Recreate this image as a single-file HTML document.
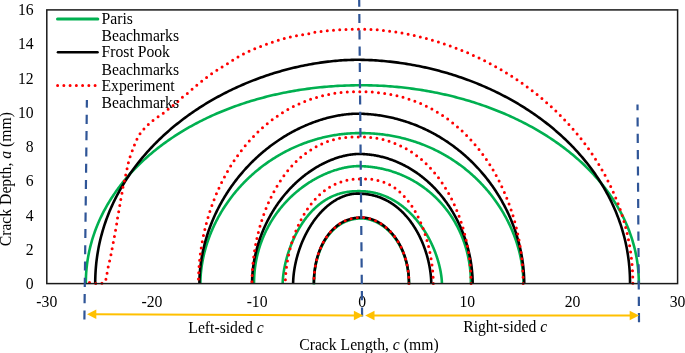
<!DOCTYPE html>
<html><head><meta charset="utf-8">
<style>
html,body{margin:0;padding:0;background:#fff;}
body{width:685px;height:353px;overflow:hidden;}
svg{display:block;}
text{font-family:"Liberation Serif", serif;font-size:15.7px;fill:#000;}
svg{will-change:transform;}
</style></head><body>
<svg width="685" height="353" viewBox="0 0 685 353">
<rect x="0" y="0" width="685" height="353" fill="#fff"/>
<g>
<text x="33.6" y="288.9" text-anchor="end">0</text>
<text x="33.6" y="254.7" text-anchor="end">2</text>
<text x="33.6" y="220.5" text-anchor="end">4</text>
<text x="33.6" y="186.3" text-anchor="end">6</text>
<text x="33.6" y="152.1" text-anchor="end">8</text>
<text x="33.6" y="117.8" text-anchor="end">10</text>
<text x="33.6" y="83.6" text-anchor="end">12</text>
<text x="33.6" y="49.4" text-anchor="end">14</text>
<text x="33.6" y="15.2" text-anchor="end">16</text>
<text x="46.8" y="307.2" text-anchor="middle">-30</text>
<text x="151.9" y="307.2" text-anchor="middle">-20</text>
<text x="257.1" y="307.2" text-anchor="middle">-10</text>
<text x="362.2" y="307.2" text-anchor="middle">0</text>
<text x="467.3" y="307.2" text-anchor="middle">10</text>
<text x="572.5" y="307.2" text-anchor="middle">20</text>
<text x="677.6" y="307.2" text-anchor="middle">30</text>
</g>
<!-- curves -->
<g>
<polyline fill="none" stroke="#00B050" stroke-width="2.6" stroke-linejoin="round" points="638.83,283.60 638.82,281.92 638.80,280.27 638.75,278.63 638.69,277.01 638.61,275.39 638.52,273.78 638.40,272.17 638.27,270.57 638.13,268.97 637.96,267.37 637.78,265.78 637.58,264.19 637.36,262.60 637.13,261.02 636.88,259.44 636.61,257.86 636.32,256.29 636.02,254.72 635.69,253.15 635.36,251.59 635.00,250.03 634.63,248.47 634.24,246.91 633.83,245.36 633.41,243.81 632.97,242.27 632.51,240.73 632.04,239.19 631.54,237.66 631.03,236.12 630.51,234.60 629.97,233.07 629.41,231.56 628.83,230.04 628.24,228.53 627.63,227.02 627.00,225.52 626.36,224.02 625.70,222.52 625.02,221.03 624.33,219.54 623.62,218.06 622.90,216.59 622.15,215.11 621.40,213.64 620.62,212.18 619.83,210.72 619.02,209.27 618.20,207.82 617.36,206.38 616.51,204.94 615.63,203.50 614.75,202.08 613.84,200.65 612.93,199.24 611.99,197.82 611.04,196.42 610.08,195.02 609.09,193.62 608.10,192.23 607.08,190.85 606.06,189.47 605.01,188.10 603.96,186.74 602.88,185.38 601.79,184.03 600.69,182.68 599.57,181.34 598.44,180.01 597.29,178.68 596.13,177.36 594.95,176.05 593.76,174.74 592.55,173.45 591.33,172.15 590.10,170.87 588.85,169.59 587.59,168.32 586.31,167.06 585.02,165.80 583.71,164.55 582.39,163.31 581.06,162.07 579.71,160.85 578.35,159.63 576.98,158.42 575.59,157.22 574.19,156.02 572.77,154.83 571.35,153.65 569.91,152.48 568.45,151.32 566.99,150.17 565.51,149.02 564.02,147.88 562.52,146.75 561.00,145.63 559.47,144.52 557.93,143.41 556.38,142.32 554.81,141.23 553.23,140.15 551.65,139.09 550.05,138.03 548.43,136.98 546.81,135.93 545.17,134.90 543.53,133.88 541.87,132.86 540.20,131.86 538.52,130.86 536.83,129.88 535.13,128.90 533.42,127.93 531.69,126.98 529.96,126.03 528.22,125.09 526.46,124.16 524.70,123.24 522.93,122.33 521.14,121.44 519.35,120.55 517.55,119.67 515.73,118.80 513.91,117.94 512.08,117.09 510.24,116.25 508.39,115.43 506.53,114.61 504.67,113.80 502.79,113.01 500.91,112.22 499.01,111.44 497.11,110.68 495.20,109.92 493.29,109.18 491.36,108.45 489.43,107.72 487.49,107.01 485.54,106.31 483.59,105.62 481.62,104.94 479.66,104.27 477.68,103.62 475.70,102.97 473.71,102.34 471.71,101.71 469.71,101.10 467.70,100.50 465.68,99.91 463.66,99.33 461.63,98.76 459.60,98.20 457.56,97.66 455.52,97.12 453.47,96.60 451.42,96.09 449.36,95.59 447.29,95.10 445.22,94.63 443.15,94.16 441.07,93.71 438.99,93.26 436.91,92.83 434.82,92.42 432.72,92.01 430.63,91.61 428.52,91.23 426.42,90.86 424.31,90.50 422.20,90.15 420.09,89.81 417.98,89.49 415.86,89.18 413.74,88.88 411.62,88.59 409.49,88.31 407.36,88.05 405.24,87.79 403.11,87.55 400.98,87.32 398.85,87.10 396.72,86.90 394.59,86.71 392.45,86.52 390.32,86.36 388.19,86.20 386.06,86.05 383.93,85.92 381.80,85.80 379.67,85.69 377.55,85.59 375.43,85.51 373.31,85.44 371.20,85.38 369.09,85.33 366.99,85.29 364.90,85.27 362.84,85.26 360.60,85.26 358.25,85.27 355.92,85.29 353.62,85.33 351.33,85.38 349.06,85.44 346.79,85.51 344.53,85.59 342.28,85.69 340.04,85.80 337.80,85.92 335.57,86.05 333.34,86.20 331.12,86.36 328.90,86.52 326.69,86.71 324.49,86.90 322.29,87.10 320.09,87.32 317.90,87.55 315.72,87.79 313.54,88.05 311.37,88.31 309.20,88.59 307.03,88.88 304.87,89.18 302.72,89.49 300.57,89.81 298.43,90.15 296.29,90.50 294.15,90.86 292.03,91.23 289.91,91.61 287.79,92.01 285.68,92.42 283.58,92.83 281.48,93.26 279.39,93.71 277.30,94.16 275.22,94.63 273.15,95.10 271.08,95.59 269.02,96.09 266.97,96.60 264.92,97.12 262.88,97.66 260.85,98.20 258.82,98.76 256.80,99.33 254.79,99.91 252.78,100.50 250.79,101.10 248.80,101.71 246.81,102.34 244.84,102.97 242.87,103.62 240.91,104.27 238.96,104.94 237.02,105.62 235.09,106.31 233.16,107.01 231.24,107.72 229.33,108.45 227.43,109.18 225.54,109.92 223.66,110.68 221.79,111.44 219.92,112.22 218.07,113.01 216.22,113.80 214.38,114.61 212.55,115.43 210.74,116.25 208.93,117.09 207.13,117.94 205.34,118.80 203.56,119.67 201.79,120.55 200.03,121.44 198.28,122.33 196.55,123.24 194.82,124.16 193.10,125.09 191.39,126.03 189.70,126.98 188.01,127.93 186.34,128.90 184.67,129.88 183.02,130.86 181.38,131.86 179.75,132.86 178.13,133.88 176.53,134.90 174.93,135.93 173.35,136.98 171.78,138.03 170.21,139.09 168.67,140.15 167.13,141.23 165.61,142.32 164.09,143.41 162.59,144.52 161.11,145.63 159.63,146.75 158.17,147.88 156.72,149.02 155.28,150.17 153.86,151.32 152.44,152.48 151.05,153.65 149.66,154.83 148.29,156.02 146.93,157.22 145.58,158.42 144.25,159.63 142.93,160.85 141.62,162.07 140.33,163.31 139.05,164.55 137.78,165.80 136.53,167.06 135.29,168.32 134.07,169.59 132.86,170.87 131.66,172.15 130.48,173.45 129.31,174.74 128.16,176.05 127.02,177.36 125.90,178.68 124.79,180.01 123.69,181.34 122.61,182.68 121.54,184.03 120.49,185.38 119.45,186.74 118.43,188.10 117.42,189.47 116.43,190.85 115.45,192.23 114.49,193.62 113.54,195.02 112.61,196.42 111.69,197.82 110.79,199.24 109.90,200.65 109.03,202.08 108.17,203.50 107.33,204.94 106.51,206.38 105.70,207.82 104.90,209.27 104.13,210.72 103.36,212.18 102.62,213.64 101.89,215.11 101.17,216.59 100.47,218.06 99.79,219.54 99.12,221.03 98.47,222.52 97.83,224.02 97.21,225.52 96.61,227.02 96.02,228.53 95.45,230.04 94.90,231.56 94.36,233.07 93.83,234.60 93.33,236.12 92.84,237.66 92.36,239.19 91.91,240.73 91.47,242.27 91.04,243.81 90.63,245.36 90.24,246.91 89.87,248.47 89.51,250.03 89.17,251.59 88.84,253.15 88.53,254.72 88.24,256.29 87.97,257.86 87.71,259.44 87.46,261.02 87.24,262.60 87.03,264.19 86.84,265.78 86.66,267.37 86.50,268.97 86.36,270.57 86.23,272.17 86.13,273.78 86.03,275.39 85.96,277.01 85.90,278.63 85.86,280.27 85.83,281.92 85.82,283.60"/>
<polyline fill="none" stroke="#00B050" stroke-width="2.6" stroke-linejoin="round" points="523.47,283.60 523.46,282.67 523.45,281.67 523.43,280.64 523.39,279.60 523.35,278.55 523.29,277.48 523.23,276.41 523.15,275.33 523.07,274.24 522.98,273.15 522.87,272.05 522.76,270.95 522.64,269.85 522.50,268.74 522.36,267.63 522.21,266.52 522.05,265.41 521.87,264.29 521.69,263.17 521.50,262.05 521.30,260.93 521.09,259.80 520.87,258.68 520.64,257.56 520.40,256.43 520.15,255.30 519.89,254.18 519.62,253.05 519.34,251.93 519.05,250.80 518.75,249.68 518.44,248.55 518.13,247.43 517.80,246.30 517.46,245.18 517.12,244.06 516.76,242.94 516.40,241.82 516.02,240.70 515.64,239.58 515.24,238.47 514.84,237.35 514.43,236.24 514.01,235.13 513.58,234.02 513.14,232.92 512.69,231.81 512.23,230.71 511.76,229.61 511.28,228.52 510.80,227.42 510.30,226.33 509.80,225.24 509.28,224.16 508.76,223.07 508.23,221.99 507.69,220.92 507.14,219.84 506.58,218.77 506.01,217.71 505.44,216.64 504.85,215.58 504.26,214.53 503.65,213.47 503.04,212.43 502.42,211.38 501.79,210.34 501.15,209.30 500.51,208.27 499.85,207.24 499.19,206.22 498.52,205.20 497.84,204.19 497.15,203.17 496.45,202.17 495.75,201.17 495.03,200.17 494.31,199.18 493.58,198.19 492.84,197.21 492.10,196.24 491.34,195.26 490.58,194.30 489.81,193.34 489.03,192.38 488.24,191.43 487.45,190.49 486.65,189.55 485.84,188.62 485.02,187.69 484.19,186.77 483.36,185.85 482.52,184.94 481.67,184.04 480.81,183.14 479.95,182.25 479.08,181.37 478.20,180.49 477.32,179.62 476.42,178.75 475.52,177.89 474.62,177.04 473.70,176.19 472.78,175.35 471.85,174.52 470.92,173.69 469.97,172.87 469.03,172.06 468.07,171.26 467.11,170.46 466.14,169.67 465.16,168.88 464.18,168.10 463.19,167.34 462.19,166.57 461.19,165.82 460.18,165.07 459.17,164.33 458.15,163.60 457.12,162.87 456.08,162.16 455.04,161.45 454.00,160.75 452.95,160.05 451.89,159.37 450.83,158.69 449.76,158.02 448.68,157.36 447.60,156.70 446.51,156.06 445.42,155.42 444.32,154.79 443.22,154.17 442.11,153.55 441.00,152.95 439.88,152.35 438.75,151.76 437.62,151.18 436.48,150.61 435.34,150.05 434.20,149.50 433.05,148.95 431.89,148.41 430.73,147.89 429.57,147.37 428.40,146.86 427.22,146.36 426.04,145.86 424.86,145.38 423.67,144.90 422.48,144.44 421.28,143.98 420.08,143.53 418.87,143.09 417.66,142.66 416.45,142.24 415.23,141.83 414.01,141.43 412.78,141.03 411.55,140.65 410.31,140.28 409.08,139.91 407.83,139.55 406.59,139.21 405.34,138.87 404.08,138.54 402.83,138.22 401.56,137.91 400.30,137.61 399.03,137.32 397.76,137.04 396.48,136.77 395.20,136.51 393.92,136.25 392.64,136.01 391.35,135.78 390.05,135.55 388.76,135.34 387.46,135.14 386.16,134.94 384.85,134.76 383.54,134.58 382.23,134.41 380.91,134.26 379.59,134.11 378.26,133.97 376.94,133.85 375.60,133.73 374.27,133.62 372.93,133.52 371.58,133.44 370.23,133.36 368.87,133.29 367.51,133.23 366.14,133.18 364.76,133.14 363.37,133.11 361.97,133.09 360.53,133.08 359.20,133.08 358.00,133.09 356.80,133.11 355.59,133.14 354.38,133.18 353.16,133.23 351.94,133.29 350.72,133.36 349.50,133.44 348.27,133.52 347.05,133.62 345.82,133.73 344.60,133.85 343.37,133.97 342.14,134.11 340.91,134.26 339.69,134.41 338.46,134.58 337.23,134.76 336.01,134.94 334.78,135.14 333.56,135.34 332.33,135.55 331.11,135.78 329.89,136.01 328.67,136.25 327.45,136.51 326.23,136.77 325.02,137.04 323.80,137.32 322.59,137.61 321.38,137.91 320.17,138.22 318.96,138.54 317.76,138.87 316.55,139.21 315.35,139.55 314.15,139.91 312.96,140.28 311.77,140.65 310.58,141.03 309.39,141.43 308.20,141.83 307.02,142.24 305.84,142.66 304.66,143.09 303.49,143.53 302.32,143.98 301.16,144.44 299.99,144.90 298.83,145.38 297.68,145.86 296.52,146.36 295.38,146.86 294.23,147.37 293.09,147.89 291.95,148.41 290.82,148.95 289.69,149.50 288.56,150.05 287.44,150.61 286.33,151.18 285.21,151.76 284.11,152.35 283.00,152.95 281.91,153.55 280.81,154.17 279.72,154.79 278.64,155.42 277.56,156.06 276.49,156.70 275.42,157.36 274.35,158.02 273.29,158.69 272.24,159.37 271.19,160.05 270.15,160.75 269.11,161.45 268.08,162.16 267.05,162.87 266.03,163.60 265.02,164.33 264.01,165.07 263.01,165.82 262.01,166.57 261.02,167.34 260.03,168.10 259.05,168.88 258.08,169.67 257.11,170.46 256.15,171.26 255.20,172.06 254.25,172.87 253.31,173.69 252.38,174.52 251.45,175.35 250.53,176.19 249.61,177.04 248.71,177.89 247.81,178.75 246.91,179.62 246.03,180.49 245.15,181.37 244.27,182.25 243.41,183.14 242.55,184.04 241.70,184.94 240.86,185.85 240.02,186.77 239.19,187.69 238.37,188.62 237.56,189.55 236.75,190.49 235.95,191.43 235.16,192.38 234.38,193.34 233.61,194.30 232.84,195.26 232.08,196.24 231.33,197.21 230.59,198.19 229.85,199.18 229.12,200.17 228.40,201.17 227.69,202.17 226.99,203.17 226.30,204.19 225.61,205.20 224.93,206.22 224.27,207.24 223.61,208.27 222.95,209.30 222.31,210.34 221.68,211.38 221.05,212.43 220.43,213.47 219.82,214.53 219.22,215.58 218.63,216.64 218.05,217.71 217.48,218.77 216.91,219.84 216.36,220.92 215.81,221.99 215.27,223.07 214.74,224.16 214.22,225.24 213.71,226.33 213.21,227.42 212.72,228.52 212.24,229.61 211.76,230.71 211.30,231.81 210.84,232.92 210.40,234.02 209.96,235.13 209.54,236.24 209.12,237.35 208.71,238.47 208.31,239.58 207.92,240.70 207.54,241.82 207.17,242.94 206.81,244.06 206.46,245.18 206.12,246.30 205.79,247.43 205.47,248.55 205.16,249.68 204.85,250.80 204.56,251.93 204.28,253.05 204.00,254.18 203.74,255.30 203.49,256.43 203.24,257.56 203.01,258.68 202.79,259.80 202.57,260.93 202.37,262.05 202.17,263.17 201.99,264.29 201.81,265.41 201.65,266.52 201.49,267.63 201.35,268.74 201.21,269.85 201.09,270.95 200.97,272.05 200.87,273.15 200.77,274.24 200.69,275.33 200.61,276.41 200.55,277.48 200.49,278.55 200.45,279.60 200.41,280.64 200.39,281.67 200.37,282.67 200.37,283.60"/>
<polyline fill="none" stroke="#00B050" stroke-width="2.6" stroke-linejoin="round" points="470.90,283.60 470.90,282.56 470.89,281.56 470.87,280.57 470.84,279.58 470.81,278.61 470.77,277.63 470.73,276.67 470.68,275.70 470.62,274.74 470.55,273.78 470.48,272.83 470.40,271.88 470.31,270.93 470.22,269.98 470.12,269.03 470.01,268.09 469.90,267.15 469.78,266.22 469.65,265.28 469.51,264.35 469.37,263.42 469.22,262.49 469.07,261.56 468.90,260.64 468.74,259.72 468.56,258.80 468.38,257.88 468.19,256.97 467.99,256.05 467.79,255.14 467.58,254.24 467.36,253.33 467.14,252.43 466.91,251.53 466.67,250.63 466.43,249.74 466.18,248.84 465.92,247.96 465.66,247.07 465.39,246.18 465.11,245.30 464.83,244.42 464.54,243.55 464.24,242.68 463.94,241.81 463.63,240.94 463.31,240.08 462.99,239.22 462.66,238.36 462.32,237.50 461.98,236.65 461.63,235.80 461.28,234.96 460.92,234.12 460.55,233.28 460.18,232.44 459.80,231.61 459.41,230.79 459.02,229.96 458.62,229.14 458.21,228.32 457.80,227.51 457.39,226.70 456.96,225.89 456.53,225.09 456.10,224.29 455.66,223.50 455.21,222.71 454.75,221.92 454.29,221.14 453.83,220.36 453.36,219.58 452.88,218.81 452.40,218.05 451.91,217.28 451.41,216.52 450.91,215.77 450.40,215.02 449.89,214.28 449.37,213.53 448.85,212.80 448.32,212.07 447.79,211.34 447.25,210.62 446.70,209.90 446.15,209.18 445.59,208.47 445.03,207.77 444.46,207.07 443.89,206.38 443.31,205.69 442.72,205.00 442.14,204.32 441.54,203.65 440.94,202.98 440.34,202.31 439.73,201.65 439.11,200.99 438.49,200.34 437.87,199.70 437.24,199.06 436.60,198.43 435.96,197.80 435.32,197.17 434.67,196.55 434.01,195.94 433.36,195.33 432.69,194.73 432.02,194.13 431.35,193.54 430.67,192.96 429.99,192.38 429.30,191.80 428.61,191.23 427.92,190.67 427.22,190.11 426.51,189.56 425.80,189.01 425.09,188.47 424.37,187.94 423.65,187.41 422.93,186.89 422.20,186.37 421.47,185.86 420.73,185.36 419.99,184.86 419.24,184.36 418.49,183.88 417.74,183.40 416.98,182.92 416.22,182.45 415.46,181.99 414.69,181.54 413.92,181.09 413.14,180.64 412.36,180.21 411.58,179.77 410.79,179.35 410.00,178.93 409.21,178.52 408.42,178.11 407.62,177.72 406.81,177.32 406.01,176.94 405.20,176.56 404.39,176.18 403.57,175.82 402.76,175.46 401.94,175.10 401.11,174.76 400.29,174.42 399.46,174.08 398.62,173.76 397.79,173.44 396.95,173.12 396.11,172.81 395.27,172.51 394.43,172.22 393.58,171.93 392.73,171.65 391.88,171.38 391.02,171.11 390.16,170.86 389.30,170.60 388.44,170.36 387.58,170.12 386.71,169.89 385.85,169.66 384.98,169.44 384.10,169.23 383.23,169.03 382.36,168.83 381.48,168.64 380.60,168.45 379.72,168.28 378.83,168.11 377.95,167.95 377.06,167.79 376.18,167.64 375.29,167.50 374.39,167.37 373.50,167.24 372.61,167.12 371.71,167.00 370.81,166.90 369.91,166.80 369.01,166.71 368.11,166.62 367.21,166.54 366.30,166.47 365.40,166.41 364.49,166.35 363.58,166.30 362.67,166.26 361.75,166.22 360.84,166.19 359.92,166.17 358.99,166.16 358.06,166.15 357.40,166.15 356.94,166.16 356.44,166.17 355.89,166.19 355.33,166.22 354.75,166.26 354.15,166.30 353.54,166.35 352.92,166.41 352.29,166.47 351.64,166.54 350.99,166.62 350.33,166.71 349.67,166.80 348.99,166.90 348.31,167.00 347.63,167.12 346.94,167.24 346.24,167.37 345.55,167.50 344.84,167.64 344.13,167.79 343.42,167.95 342.71,168.11 341.99,168.28 341.26,168.45 340.54,168.64 339.81,168.83 339.08,169.03 338.35,169.23 337.61,169.44 336.88,169.66 336.14,169.89 335.40,170.12 334.66,170.36 333.91,170.60 333.17,170.86 332.42,171.11 331.67,171.38 330.93,171.65 330.18,171.93 329.43,172.22 328.68,172.51 327.93,172.81 327.18,173.12 326.43,173.44 325.67,173.76 324.92,174.08 324.17,174.42 323.42,174.76 322.67,175.10 321.92,175.46 321.17,175.82 320.42,176.18 319.68,176.56 318.93,176.94 318.18,177.32 317.44,177.72 316.69,178.11 315.95,178.52 315.21,178.93 314.47,179.35 313.73,179.77 312.99,180.21 312.26,180.64 311.52,181.09 310.79,181.54 310.06,181.99 309.33,182.45 308.60,182.92 307.88,183.40 307.16,183.88 306.44,184.36 305.72,184.86 305.01,185.36 304.29,185.86 303.58,186.37 302.88,186.89 302.17,187.41 301.47,187.94 300.77,188.47 300.07,189.01 299.38,189.56 298.69,190.11 298.00,190.67 297.32,191.23 296.64,191.80 295.96,192.38 295.29,192.96 294.62,193.54 293.95,194.13 293.29,194.73 292.63,195.33 291.98,195.94 291.33,196.55 290.68,197.17 290.03,197.80 289.39,198.43 288.76,199.06 288.13,199.70 287.50,200.34 286.88,200.99 286.26,201.65 285.64,202.31 285.04,202.98 284.43,203.65 283.83,204.32 283.23,205.00 282.64,205.69 282.06,206.38 281.47,207.07 280.90,207.77 280.32,208.47 279.76,209.18 279.20,209.90 278.64,210.62 278.09,211.34 277.54,212.07 277.00,212.80 276.46,213.53 275.93,214.28 275.41,215.02 274.89,215.77 274.37,216.52 273.86,217.28 273.36,218.05 272.86,218.81 272.37,219.58 271.88,220.36 271.40,221.14 270.92,221.92 270.46,222.71 269.99,223.50 269.53,224.29 269.08,225.09 268.64,225.89 268.20,226.70 267.76,227.51 267.34,228.32 266.92,229.14 266.50,229.96 266.09,230.79 265.69,231.61 265.29,232.44 264.90,233.28 264.52,234.12 264.14,234.96 263.77,235.80 263.41,236.65 263.05,237.50 262.70,238.36 262.36,239.22 262.02,240.08 261.69,240.94 261.36,241.81 261.04,242.68 260.73,243.55 260.43,244.42 260.13,245.30 259.84,246.18 259.56,247.07 259.28,247.96 259.01,248.84 258.75,249.74 258.49,250.63 258.24,251.53 258.00,252.43 257.76,253.33 257.53,254.24 257.31,255.14 257.10,256.05 256.89,256.97 256.69,257.88 256.50,258.80 256.31,259.72 256.13,260.64 255.96,261.56 255.80,262.49 255.64,263.42 255.49,264.35 255.35,265.28 255.21,266.22 255.08,267.15 254.96,268.09 254.85,269.03 254.74,269.98 254.64,270.93 254.55,271.88 254.47,272.83 254.39,273.78 254.32,274.74 254.26,275.70 254.20,276.67 254.16,277.63 254.12,278.61 254.08,279.58 254.06,280.57 254.04,281.56 254.03,282.56 254.02,283.60"/>
<polyline fill="none" stroke="#00B050" stroke-width="2.6" stroke-linejoin="round" points="441.91,283.60 441.91,283.31 441.90,282.94 441.89,282.53 441.87,282.10 441.85,281.64 441.82,281.16 441.79,280.67 441.76,280.17 441.71,279.65 441.67,279.13 441.62,278.59 441.56,278.05 441.50,277.49 441.43,276.93 441.36,276.36 441.28,275.79 441.20,275.21 441.12,274.62 441.03,274.02 440.93,273.43 440.83,272.82 440.73,272.21 440.62,271.60 440.50,270.99 440.38,270.36 440.26,269.74 440.13,269.11 439.99,268.48 439.85,267.85 439.71,267.21 439.56,266.57 439.41,265.93 439.25,265.28 439.09,264.64 438.92,263.99 438.75,263.33 438.57,262.68 438.39,262.03 438.20,261.37 438.01,260.71 437.81,260.05 437.61,259.39 437.41,258.73 437.20,258.07 436.98,257.40 436.76,256.74 436.54,256.07 436.31,255.41 436.08,254.74 435.84,254.07 435.60,253.41 435.35,252.74 435.10,252.07 434.84,251.41 434.58,250.74 434.32,250.07 434.05,249.41 433.77,248.74 433.49,248.08 433.21,247.41 432.92,246.75 432.63,246.09 432.33,245.42 432.03,244.76 431.73,244.10 431.42,243.44 431.10,242.79 430.78,242.13 430.46,241.47 430.14,240.82 429.80,240.17 429.47,239.52 429.13,238.87 428.78,238.22 428.44,237.58 428.08,236.94 427.73,236.29 427.37,235.66 427.00,235.02 426.63,234.38 426.26,233.75 425.88,233.12 425.50,232.50 425.12,231.87 424.73,231.25 424.33,230.63 423.94,230.01 423.53,229.40 423.13,228.79 422.72,228.18 422.31,227.58 421.89,226.97 421.47,226.38 421.04,225.78 420.62,225.19 420.18,224.60 419.75,224.01 419.31,223.43 418.86,222.85 418.42,222.28 417.97,221.71 417.51,221.14 417.05,220.58 416.59,220.02 416.13,219.46 415.66,218.91 415.18,218.36 414.71,217.82 414.23,217.28 413.75,216.74 413.26,216.21 412.77,215.69 412.28,215.16 411.78,214.65 411.28,214.13 410.78,213.62 410.27,213.12 409.76,212.62 409.25,212.12 408.73,211.63 408.21,211.15 407.69,210.67 407.16,210.19 406.63,209.72 406.10,209.26 405.57,208.79 405.03,208.34 404.49,207.89 403.94,207.44 403.40,207.00 402.85,206.57 402.29,206.14 401.74,205.71 401.18,205.29 400.62,204.88 400.05,204.47 399.48,204.07 398.91,203.67 398.34,203.28 397.77,202.90 397.19,202.51 396.61,202.14 396.02,201.77 395.44,201.41 394.85,201.05 394.26,200.70 393.66,200.35 393.07,200.02 392.47,199.68 391.87,199.35 391.26,199.03 390.66,198.72 390.05,198.41 389.44,198.10 388.82,197.81 388.21,197.52 387.59,197.23 386.97,196.95 386.34,196.68 385.72,196.41 385.09,196.16 384.46,195.90 383.83,195.65 383.20,195.41 382.56,195.18 381.92,194.95 381.28,194.73 380.64,194.52 379.99,194.31 379.35,194.11 378.70,193.91 378.04,193.72 377.39,193.54 376.73,193.36 376.08,193.20 375.42,193.03 374.75,192.88 374.09,192.73 373.42,192.59 372.75,192.45 372.08,192.32 371.41,192.20 370.73,192.08 370.05,191.98 369.37,191.87 368.68,191.78 368.00,191.69 367.31,191.61 366.61,191.53 365.92,191.46 365.22,191.40 364.51,191.35 363.80,191.30 363.09,191.26 362.37,191.23 361.64,191.20 360.90,191.18 360.15,191.16 359.38,191.16 358.39,191.16 357.46,191.16 356.61,191.18 355.79,191.20 355.00,191.23 354.23,191.26 353.48,191.30 352.74,191.35 352.01,191.40 351.29,191.46 350.58,191.53 349.88,191.61 349.18,191.69 348.50,191.78 347.82,191.87 347.14,191.98 346.47,192.08 345.81,192.20 345.15,192.32 344.50,192.45 343.85,192.59 343.20,192.73 342.56,192.88 341.93,193.03 341.29,193.20 340.66,193.36 340.04,193.54 339.42,193.72 338.80,193.91 338.19,194.11 337.58,194.31 336.97,194.52 336.36,194.73 335.76,194.95 335.17,195.18 334.57,195.41 333.98,195.65 333.39,195.90 332.81,196.16 332.23,196.41 331.65,196.68 331.08,196.95 330.50,197.23 329.93,197.52 329.37,197.81 328.80,198.10 328.24,198.41 327.69,198.72 327.13,199.03 326.58,199.35 326.03,199.68 325.49,200.02 324.95,200.35 324.41,200.70 323.87,201.05 323.34,201.41 322.81,201.77 322.28,202.14 321.76,202.51 321.24,202.90 320.72,203.28 320.20,203.67 319.69,204.07 319.18,204.47 318.67,204.88 318.17,205.29 317.67,205.71 317.17,206.14 316.68,206.57 316.19,207.00 315.70,207.44 315.22,207.89 314.73,208.34 314.26,208.79 313.78,209.26 313.31,209.72 312.84,210.19 312.37,210.67 311.91,211.15 311.45,211.63 310.99,212.12 310.54,212.62 310.09,213.12 309.64,213.62 309.20,214.13 308.76,214.65 308.32,215.16 307.89,215.69 307.46,216.21 307.03,216.74 306.60,217.28 306.18,217.82 305.77,218.36 305.35,218.91 304.94,219.46 304.53,220.02 304.13,220.58 303.73,221.14 303.33,221.71 302.94,222.28 302.55,222.85 302.16,223.43 301.78,224.01 301.40,224.60 301.02,225.19 300.65,225.78 300.28,226.38 299.91,226.97 299.55,227.58 299.19,228.18 298.83,228.79 298.48,229.40 298.13,230.01 297.79,230.63 297.45,231.25 297.11,231.87 296.78,232.50 296.45,233.12 296.12,233.75 295.80,234.38 295.48,235.02 295.16,235.66 294.85,236.29 294.54,236.94 294.24,237.58 293.94,238.22 293.64,238.87 293.35,239.52 293.06,240.17 292.77,240.82 292.49,241.47 292.21,242.13 291.94,242.79 291.67,243.44 291.40,244.10 291.14,244.76 290.88,245.42 290.62,246.09 290.37,246.75 290.13,247.41 289.88,248.08 289.64,248.74 289.41,249.41 289.18,250.07 288.95,250.74 288.72,251.41 288.51,252.07 288.29,252.74 288.08,253.41 287.87,254.07 287.67,254.74 287.47,255.41 287.27,256.07 287.08,256.74 286.89,257.40 286.71,258.07 286.53,258.73 286.35,259.39 286.18,260.05 286.01,260.71 285.85,261.37 285.69,262.03 285.53,262.68 285.38,263.33 285.23,263.99 285.09,264.64 284.95,265.28 284.82,265.93 284.68,266.57 284.56,267.21 284.43,267.85 284.32,268.48 284.20,269.11 284.09,269.74 283.98,270.36 283.88,270.99 283.78,271.60 283.69,272.21 283.60,272.82 283.52,273.43 283.43,274.02 283.36,274.62 283.28,275.21 283.21,275.79 283.15,276.36 283.09,276.93 283.03,277.49 282.98,278.05 282.93,278.59 282.89,279.13 282.85,279.65 282.81,280.17 282.78,280.67 282.75,281.16 282.73,281.64 282.71,282.10 282.70,282.53 282.69,282.94 282.68,283.31 282.68,283.60"/>
<polyline fill="none" stroke="#00B050" stroke-width="2.6" stroke-linejoin="round" points="408.97,284.50 408.97,283.89 408.96,283.30 408.96,282.73 408.95,282.16 408.93,281.60 408.91,281.04 408.89,280.49 408.87,279.94 408.84,279.39 408.81,278.84 408.78,278.30 408.75,277.75 408.71,277.21 408.66,276.68 408.62,276.14 408.57,275.60 408.52,275.07 408.46,274.54 408.41,274.01 408.35,273.48 408.28,272.95 408.22,272.42 408.15,271.90 408.07,271.38 408.00,270.85 407.92,270.33 407.83,269.82 407.75,269.30 407.66,268.78 407.57,268.27 407.48,267.76 407.38,267.25 407.28,266.74 407.17,266.23 407.07,265.72 406.96,265.22 406.85,264.72 406.73,264.22 406.61,263.72 406.49,263.22 406.37,262.72 406.24,262.23 406.11,261.73 405.98,261.24 405.84,260.75 405.70,260.27 405.56,259.78 405.42,259.30 405.27,258.81 405.12,258.33 404.97,257.86 404.81,257.38 404.65,256.91 404.49,256.43 404.32,255.96 404.16,255.49 403.99,255.03 403.82,254.56 403.64,254.10 403.46,253.64 403.28,253.18 403.10,252.72 402.91,252.27 402.72,251.82 402.53,251.37 402.34,250.92 402.14,250.47 401.94,250.03 401.74,249.59 401.53,249.15 401.33,248.71 401.12,248.28 400.91,247.85 400.69,247.42 400.47,246.99 400.25,246.57 400.03,246.15 399.81,245.73 399.58,245.31 399.35,244.89 399.12,244.48 398.88,244.07 398.65,243.66 398.41,243.26 398.17,242.86 397.92,242.46 397.68,242.06 397.43,241.67 397.18,241.28 396.93,240.89 396.67,240.50 396.42,240.12 396.16,239.74 395.90,239.36 395.63,238.99 395.37,238.62 395.10,238.25 394.83,237.88 394.56,237.52 394.28,237.16 394.01,236.80 393.73,236.44 393.45,236.09 393.17,235.75 392.89,235.40 392.60,235.06 392.31,234.72 392.02,234.38 391.73,234.05 391.44,233.72 391.15,233.39 390.85,233.07 390.55,232.75 390.25,232.43 389.95,232.11 389.65,231.80 389.34,231.50 389.04,231.19 388.73,230.89 388.42,230.59 388.11,230.30 387.80,230.00 387.48,229.72 387.17,229.43 386.85,229.15 386.53,228.87 386.22,228.60 385.90,228.32 385.57,228.06 385.25,227.79 384.93,227.53 384.60,227.27 384.27,227.02 383.94,226.77 383.62,226.52 383.29,226.28 382.95,226.04 382.62,225.80 382.29,225.57 381.95,225.34 381.62,225.11 381.28,224.89 380.95,224.67 380.61,224.45 380.27,224.24 379.93,224.03 379.59,223.83 379.25,223.63 378.91,223.43 378.56,223.24 378.22,223.05 377.88,222.86 377.53,222.68 377.19,222.50 376.84,222.33 376.50,222.16 376.15,221.99 375.80,221.83 375.46,221.67 375.11,221.51 374.76,221.36 374.41,221.21 374.07,221.07 373.72,220.93 373.37,220.79 373.02,220.65 372.67,220.53 372.33,220.40 371.98,220.28 371.63,220.16 371.28,220.05 370.93,219.94 370.59,219.83 370.24,219.73 369.89,219.63 369.55,219.54 369.20,219.45 368.86,219.36 368.51,219.28 368.17,219.20 367.83,219.12 367.49,219.05 367.15,218.98 366.81,218.92 366.47,218.86 366.13,218.81 365.80,218.75 365.47,218.71 365.13,218.66 364.80,218.62 364.48,218.59 364.15,218.56 363.83,218.53 363.51,218.51 363.20,218.49 362.89,218.47 362.59,218.46 362.29,218.45 362.02,218.45 361.60,218.45 361.10,218.45 360.62,218.46 360.16,218.47 359.70,218.49 359.26,218.51 358.82,218.53 358.38,218.56 357.95,218.59 357.53,218.62 357.10,218.66 356.68,218.71 356.27,218.75 355.86,218.81 355.45,218.86 355.04,218.92 354.63,218.98 354.23,219.05 353.83,219.12 353.43,219.20 353.03,219.28 352.64,219.36 352.24,219.45 351.85,219.54 351.46,219.63 351.07,219.73 350.69,219.83 350.30,219.94 349.92,220.05 349.54,220.16 349.16,220.28 348.79,220.40 348.41,220.53 348.03,220.65 347.66,220.79 347.29,220.93 346.92,221.07 346.55,221.21 346.19,221.36 345.82,221.51 345.46,221.67 345.10,221.83 344.74,221.99 344.38,222.16 344.02,222.33 343.67,222.50 343.32,222.68 342.96,222.86 342.61,223.05 342.27,223.24 341.92,223.43 341.57,223.63 341.23,223.83 340.89,224.03 340.55,224.24 340.21,224.45 339.87,224.67 339.54,224.89 339.20,225.11 338.87,225.34 338.54,225.57 338.21,225.80 337.89,226.04 337.56,226.28 337.24,226.52 336.92,226.77 336.60,227.02 336.28,227.27 335.96,227.53 335.65,227.79 335.34,228.06 335.02,228.32 334.72,228.60 334.41,228.87 334.10,229.15 333.80,229.43 333.50,229.72 333.20,230.00 332.90,230.30 332.61,230.59 332.31,230.89 332.02,231.19 331.73,231.50 331.44,231.80 331.16,232.11 330.87,232.43 330.59,232.75 330.31,233.07 330.03,233.39 329.76,233.72 329.48,234.05 329.21,234.38 328.94,234.72 328.67,235.06 328.41,235.40 328.14,235.75 327.88,236.09 327.62,236.44 327.36,236.80 327.11,237.16 326.86,237.52 326.61,237.88 326.36,238.25 326.11,238.62 325.87,238.99 325.62,239.36 325.38,239.74 325.15,240.12 324.91,240.50 324.68,240.89 324.45,241.28 324.22,241.67 323.99,242.06 323.77,242.46 323.54,242.86 323.33,243.26 323.11,243.66 322.89,244.07 322.68,244.48 322.47,244.89 322.26,245.31 322.06,245.73 321.85,246.15 321.65,246.57 321.45,246.99 321.26,247.42 321.06,247.85 320.87,248.28 320.68,248.71 320.50,249.15 320.31,249.59 320.13,250.03 319.95,250.47 319.78,250.92 319.60,251.37 319.43,251.82 319.26,252.27 319.10,252.72 318.93,253.18 318.77,253.64 318.61,254.10 318.45,254.56 318.30,255.03 318.15,255.49 318.00,255.96 317.85,256.43 317.71,256.91 317.57,257.38 317.43,257.86 317.29,258.33 317.16,258.81 317.03,259.30 316.90,259.78 316.77,260.27 316.65,260.75 316.53,261.24 316.41,261.73 316.30,262.23 316.19,262.72 316.08,263.22 315.97,263.72 315.86,264.22 315.76,264.72 315.66,265.22 315.57,265.72 315.47,266.23 315.38,266.74 315.29,267.25 315.21,267.76 315.12,268.27 315.04,268.78 314.96,269.30 314.89,269.82 314.82,270.33 314.75,270.85 314.68,271.38 314.61,271.90 314.55,272.42 314.49,272.95 314.44,273.48 314.38,274.01 314.33,274.54 314.29,275.07 314.24,275.60 314.20,276.14 314.16,276.68 314.12,277.21 314.09,277.75 314.06,278.30 314.03,278.84 314.00,279.39 313.98,279.94 313.96,280.49 313.94,281.04 313.92,281.60 313.91,282.16 313.90,282.73 313.89,283.30 313.89,283.89 313.89,284.50"/>
<polyline fill="none" stroke="#000000" stroke-width="2.6" stroke-linejoin="round" points="630.04,283.60 630.03,281.65 630.00,279.75 629.96,277.88 629.90,276.02 629.82,274.17 629.72,272.33 629.61,270.49 629.48,268.67 629.33,266.84 629.16,265.03 628.98,263.21 628.78,261.41 628.56,259.60 628.32,257.81 628.07,256.01 627.80,254.22 627.51,252.44 627.20,250.65 626.88,248.88 626.54,247.10 626.18,245.33 625.81,243.57 625.42,241.81 625.01,240.05 624.58,238.30 624.14,236.55 623.68,234.80 623.20,233.06 622.70,231.33 622.19,229.59 621.66,227.87 621.12,226.14 620.56,224.43 619.98,222.71 619.38,221.01 618.77,219.30 618.14,217.60 617.49,215.91 616.83,214.22 616.15,212.54 615.45,210.86 614.74,209.18 614.01,207.52 613.26,205.85 612.50,204.20 611.72,202.54 610.93,200.90 610.12,199.26 609.29,197.62 608.45,195.99 607.59,194.37 606.71,192.76 605.82,191.15 604.92,189.54 603.99,187.94 603.05,186.35 602.10,184.77 601.13,183.19 600.15,181.62 599.14,180.05 598.13,178.49 597.10,176.94 596.05,175.40 594.99,173.86 593.91,172.33 592.82,170.81 591.71,169.29 590.59,167.78 589.45,166.28 588.30,164.79 587.14,163.30 585.96,161.82 584.76,160.35 583.55,158.89 582.33,157.43 581.09,155.99 579.84,154.55 578.57,153.12 577.29,151.70 576.00,150.28 574.69,148.88 573.37,147.48 572.03,146.09 570.68,144.71 569.32,143.34 567.95,141.98 566.56,140.63 565.16,139.28 563.74,137.95 562.31,136.62 560.87,135.30 559.42,133.99 557.95,132.70 556.48,131.41 554.98,130.13 553.48,128.86 551.97,127.60 550.44,126.35 548.90,125.10 547.35,123.87 545.78,122.65 544.21,121.44 542.62,120.24 541.02,119.05 539.42,117.87 537.80,116.70 536.16,115.54 534.52,114.39 532.87,113.25 531.20,112.12 529.53,111.00 527.84,109.89 526.15,108.79 524.44,107.71 522.73,106.63 521.00,105.57 519.26,104.51 517.52,103.47 515.76,102.44 514.00,101.42 512.22,100.41 510.44,99.41 508.65,98.42 506.84,97.45 505.03,96.48 503.21,95.53 501.39,94.59 499.55,93.66 497.70,92.74 495.85,91.83 493.99,90.94 492.12,90.06 490.24,89.19 488.36,88.33 486.47,87.48 484.57,86.64 482.66,85.82 480.75,85.01 478.83,84.21 476.90,83.42 474.96,82.65 473.02,81.89 471.08,81.14 469.12,80.40 467.17,79.67 465.20,78.96 463.23,78.26 461.25,77.57 459.27,76.90 457.28,76.23 455.29,75.58 453.29,74.95 451.29,74.32 449.29,73.71 447.28,73.11 445.26,72.52 443.24,71.95 441.22,71.39 439.19,70.84 437.16,70.31 435.13,69.78 433.09,69.27 431.05,68.78 429.01,68.30 426.96,67.83 424.91,67.37 422.86,66.93 420.81,66.50 418.76,66.08 416.70,65.67 414.64,65.28 412.58,64.91 410.52,64.54 408.46,64.19 406.40,63.85 404.34,63.53 402.28,63.22 400.22,62.92 398.16,62.64 396.10,62.37 394.04,62.11 391.98,61.87 389.93,61.64 387.88,61.42 385.83,61.22 383.78,61.03 381.74,60.85 379.70,60.69 377.66,60.54 375.63,60.40 373.61,60.28 371.60,60.17 369.59,60.08 367.59,59.99 365.61,59.93 363.64,59.87 361.69,59.83 359.76,59.80 357.89,59.79 356.33,59.79 354.80,59.80 353.18,59.83 351.51,59.87 349.81,59.93 348.08,59.99 346.32,60.08 344.55,60.17 342.75,60.28 340.94,60.40 339.12,60.54 337.29,60.69 335.44,60.85 333.59,61.03 331.72,61.22 329.85,61.42 327.97,61.64 326.09,61.87 324.19,62.11 322.30,62.37 320.39,62.64 318.49,62.92 316.58,63.22 314.66,63.53 312.74,63.85 310.82,64.19 308.90,64.54 306.97,64.91 305.04,65.28 303.11,65.67 301.18,66.08 299.25,66.50 297.32,66.93 295.39,67.37 293.45,67.83 291.52,68.30 289.59,68.78 287.65,69.27 285.72,69.78 283.79,70.31 281.86,70.84 279.94,71.39 278.01,71.95 276.09,72.52 274.16,73.11 272.25,73.71 270.33,74.32 268.42,74.95 266.50,75.58 264.60,76.23 262.69,76.90 260.79,77.57 258.89,78.26 257.00,78.96 255.11,79.67 253.23,80.40 251.35,81.14 249.47,81.89 247.60,82.65 245.74,83.42 243.88,84.21 242.02,85.01 240.17,85.82 238.33,86.64 236.49,87.48 234.66,88.33 232.83,89.19 231.02,90.06 229.20,90.94 227.40,91.83 225.60,92.74 223.81,93.66 222.02,94.59 220.24,95.53 218.47,96.48 216.71,97.45 214.96,98.42 213.21,99.41 211.47,100.41 209.74,101.42 208.02,102.44 206.31,103.47 204.60,104.51 202.91,105.57 201.22,106.63 199.54,107.71 197.88,108.79 196.22,109.89 194.57,111.00 192.93,112.12 191.30,113.25 189.68,114.39 188.07,115.54 186.47,116.70 184.88,117.87 183.30,119.05 181.73,120.24 180.18,121.44 178.63,122.65 177.09,123.87 175.57,125.10 174.05,126.35 172.55,127.60 171.06,128.86 169.58,130.13 168.11,131.41 166.66,132.70 165.21,133.99 163.78,135.30 162.36,136.62 160.96,137.95 159.56,139.28 158.18,140.63 156.81,141.98 155.45,143.34 154.11,144.71 152.78,146.09 151.46,147.48 150.15,148.88 148.86,150.28 147.58,151.70 146.31,153.12 145.06,154.55 143.82,155.99 142.60,157.43 141.39,158.89 140.19,160.35 139.01,161.82 137.84,163.30 136.69,164.79 135.55,166.28 134.42,167.78 133.31,169.29 132.21,170.81 131.13,172.33 130.06,173.86 129.01,175.40 127.97,176.94 126.95,178.49 125.94,180.05 124.95,181.62 123.97,183.19 123.01,184.77 122.06,186.35 121.13,187.94 120.21,189.54 119.31,191.15 118.43,192.76 117.56,194.37 116.70,195.99 115.87,197.62 115.04,199.26 114.24,200.90 113.45,202.54 112.67,204.20 111.92,205.85 111.18,207.52 110.45,209.18 109.74,210.86 109.05,212.54 108.37,214.22 107.71,215.91 107.07,217.60 106.44,219.30 105.83,221.01 105.24,222.71 104.66,224.43 104.10,226.14 103.56,227.87 103.03,229.59 102.52,231.33 102.03,233.06 101.55,234.80 101.10,236.55 100.65,238.30 100.23,240.05 99.82,241.81 99.43,243.57 99.06,245.33 98.70,247.10 98.36,248.88 98.04,250.65 97.74,252.44 97.45,254.22 97.18,256.01 96.93,257.81 96.69,259.60 96.47,261.41 96.27,263.21 96.09,265.03 95.93,266.84 95.78,268.67 95.65,270.49 95.53,272.33 95.44,274.17 95.36,276.02 95.30,277.88 95.25,279.75 95.23,281.65 95.22,283.60"/>
<polyline fill="none" stroke="#000000" stroke-width="2.6" stroke-linejoin="round" points="524.23,283.60 524.23,282.46 524.21,281.27 524.19,280.05 524.15,278.83 524.10,277.59 524.04,276.34 523.98,275.09 523.90,273.84 523.81,272.58 523.71,271.31 523.60,270.04 523.48,268.77 523.35,267.50 523.21,266.22 523.05,264.94 522.89,263.66 522.72,262.38 522.54,261.10 522.34,259.82 522.14,258.53 521.92,257.25 521.70,255.96 521.47,254.68 521.22,253.40 520.96,252.11 520.70,250.83 520.42,249.54 520.14,248.26 519.84,246.98 519.53,245.70 519.22,244.42 518.89,243.14 518.55,241.86 518.20,240.59 517.85,239.31 517.48,238.04 517.10,236.77 516.71,235.50 516.32,234.23 515.91,232.96 515.49,231.70 515.06,230.44 514.63,229.18 514.18,227.93 513.72,226.67 513.25,225.42 512.78,224.18 512.29,222.93 511.79,221.69 511.29,220.45 510.77,219.22 510.25,217.99 509.71,216.76 509.17,215.53 508.61,214.31 508.05,213.10 507.48,211.88 506.89,210.68 506.30,209.47 505.70,208.27 505.09,207.07 504.47,205.88 503.84,204.69 503.20,203.51 502.56,202.33 501.90,201.15 501.24,199.98 500.56,198.82 499.88,197.66 499.19,196.51 498.48,195.36 497.77,194.21 497.06,193.07 496.33,191.94 495.59,190.81 494.85,189.69 494.09,188.57 493.33,187.46 492.56,186.35 491.78,185.25 490.99,184.16 490.20,183.07 489.40,181.99 488.58,180.91 487.76,179.84 486.93,178.78 486.10,177.72 485.25,176.67 484.40,175.62 483.54,174.59 482.67,173.55 481.79,172.53 480.91,171.51 480.02,170.50 479.12,169.50 478.21,168.50 477.30,167.51 476.37,166.53 475.45,165.56 474.51,164.59 473.56,163.63 472.61,162.67 471.65,161.73 470.69,160.79 469.72,159.86 468.74,158.94 467.75,158.02 466.76,157.12 465.76,156.22 464.75,155.33 463.74,154.44 462.72,153.57 461.69,152.70 460.66,151.84 459.62,150.99 458.57,150.15 457.52,149.32 456.46,148.49 455.40,147.67 454.33,146.87 453.25,146.07 452.17,145.27 451.08,144.49 449.99,143.72 448.89,142.95 447.78,142.20 446.67,141.45 445.56,140.71 444.44,139.99 443.31,139.27 442.18,138.55 441.04,137.85 439.90,137.16 438.75,136.48 437.60,135.80 436.44,135.14 435.28,134.49 434.12,133.84 432.94,133.20 431.77,132.58 430.59,131.96 429.40,131.35 428.22,130.76 427.02,130.17 425.83,129.59 424.62,129.02 423.42,128.46 422.21,127.92 421.00,127.38 419.78,126.85 418.56,126.33 417.34,125.82 416.11,125.32 414.88,124.83 413.65,124.36 412.41,123.89 411.17,123.43 409.92,122.98 408.68,122.54 407.43,122.12 406.18,121.70 404.92,121.29 403.66,120.90 402.41,120.51 401.14,120.13 399.88,119.77 398.61,119.42 397.34,119.07 396.07,118.74 394.80,118.41 393.52,118.10 392.25,117.80 390.97,117.51 389.69,117.23 388.41,116.96 387.13,116.70 385.84,116.45 384.56,116.21 383.27,115.98 381.99,115.77 380.70,115.56 379.41,115.37 378.12,115.18 376.83,115.01 375.54,114.85 374.25,114.69 372.97,114.55 371.68,114.42 370.39,114.30 369.10,114.19 367.81,114.10 366.53,114.01 365.24,113.93 363.96,113.87 362.68,113.81 361.41,113.77 360.13,113.74 358.87,113.72 357.61,113.71 356.64,113.71 355.79,113.72 354.89,113.74 353.94,113.77 352.97,113.81 351.98,113.87 350.97,113.93 349.95,114.01 348.91,114.10 347.86,114.19 346.80,114.30 345.73,114.42 344.66,114.55 343.57,114.69 342.48,114.85 341.38,115.01 340.28,115.18 339.17,115.37 338.06,115.56 336.94,115.77 335.82,115.98 334.69,116.21 333.56,116.45 332.43,116.70 331.29,116.96 330.15,117.23 329.01,117.51 327.87,117.80 326.72,118.10 325.58,118.41 324.43,118.74 323.28,119.07 322.12,119.42 320.97,119.77 319.82,120.13 318.66,120.51 317.51,120.90 316.35,121.29 315.20,121.70 314.04,122.12 312.89,122.54 311.73,122.98 310.58,123.43 309.43,123.89 308.27,124.36 307.12,124.83 305.97,125.32 304.82,125.82 303.67,126.33 302.53,126.85 301.38,127.38 300.24,127.92 299.10,128.46 297.96,129.02 296.82,129.59 295.68,130.17 294.55,130.76 293.42,131.35 292.29,131.96 291.16,132.58 290.04,133.20 288.92,133.84 287.80,134.49 286.69,135.14 285.58,135.80 284.47,136.48 283.37,137.16 282.27,137.85 281.17,138.55 280.08,139.27 278.99,139.99 277.90,140.71 276.82,141.45 275.74,142.20 274.67,142.95 273.60,143.72 272.54,144.49 271.48,145.27 270.42,146.07 269.37,146.87 268.33,147.67 267.29,148.49 266.25,149.32 265.22,150.15 264.20,150.99 263.18,151.84 262.16,152.70 261.16,153.57 260.15,154.44 259.16,155.33 258.16,156.22 257.18,157.12 256.20,158.02 255.22,158.94 254.26,159.86 253.29,160.79 252.34,161.73 251.39,162.67 250.45,163.63 249.51,164.59 248.58,165.56 247.66,166.53 246.74,167.51 245.83,168.50 244.93,169.50 244.04,170.50 243.15,171.51 242.27,172.53 241.39,173.55 240.53,174.59 239.67,175.62 238.82,176.67 237.97,177.72 237.14,178.78 236.31,179.84 235.49,180.91 234.67,181.99 233.87,183.07 233.07,184.16 232.28,185.25 231.50,186.35 230.72,187.46 229.96,188.57 229.20,189.69 228.45,190.81 227.71,191.94 226.98,193.07 226.26,194.21 225.54,195.36 224.83,196.51 224.14,197.66 223.45,198.82 222.77,199.98 222.09,201.15 221.43,202.33 220.78,203.51 220.13,204.69 219.50,205.88 218.87,207.07 218.25,208.27 217.65,209.47 217.05,210.68 216.46,211.88 215.88,213.10 215.31,214.31 214.74,215.53 214.19,216.76 213.65,217.99 213.12,219.22 212.59,220.45 212.08,221.69 211.58,222.93 211.08,224.18 210.60,225.42 210.12,226.67 209.66,227.93 209.20,229.18 208.76,230.44 208.32,231.70 207.90,232.96 207.48,234.23 207.08,235.50 206.69,236.77 206.30,238.04 205.93,239.31 205.56,240.59 205.21,241.86 204.86,243.14 204.53,244.42 204.21,245.70 203.90,246.98 203.59,248.26 203.30,249.54 203.02,250.83 202.75,252.11 202.49,253.40 202.24,254.68 202.00,255.96 201.77,257.25 201.55,258.53 201.34,259.82 201.15,261.10 200.96,262.38 200.78,263.66 200.62,264.94 200.46,266.22 200.32,267.50 200.18,268.77 200.06,270.04 199.95,271.31 199.85,272.58 199.75,273.84 199.67,275.09 199.60,276.34 199.55,277.59 199.50,278.83 199.46,280.05 199.43,281.27 199.42,282.46 199.41,283.60"/>
<polyline fill="none" stroke="#000000" stroke-width="2.6" stroke-linejoin="round" points="472.66,283.60 472.65,282.73 472.64,281.82 472.62,280.89 472.60,279.96 472.57,279.01 472.53,278.06 472.48,277.11 472.43,276.15 472.37,275.19 472.30,274.22 472.22,273.25 472.14,272.28 472.05,271.31 471.96,270.34 471.85,269.36 471.74,268.39 471.63,267.41 471.50,266.43 471.37,265.45 471.23,264.47 471.08,263.49 470.93,262.51 470.77,261.53 470.61,260.55 470.43,259.57 470.25,258.59 470.06,257.61 469.87,256.63 469.67,255.66 469.46,254.68 469.24,253.70 469.02,252.73 468.79,251.75 468.55,250.78 468.31,249.80 468.06,248.83 467.80,247.86 467.54,246.89 467.27,245.93 466.99,244.96 466.71,244.00 466.41,243.04 466.12,242.08 465.81,241.12 465.50,240.16 465.18,239.21 464.86,238.26 464.53,237.31 464.19,236.36 463.85,235.42 463.49,234.47 463.14,233.53 462.77,232.60 462.40,231.66 462.03,230.73 461.64,229.80 461.25,228.88 460.86,227.95 460.45,227.03 460.04,226.12 459.63,225.21 459.21,224.30 458.78,223.39 458.34,222.49 457.90,221.59 457.46,220.69 457.00,219.80 456.55,218.91 456.08,218.02 455.61,217.14 455.13,216.27 454.65,215.39 454.16,214.52 453.66,213.66 453.16,212.80 452.66,211.94 452.14,211.09 451.62,210.24 451.10,209.39 450.57,208.56 450.03,207.72 449.49,206.89 448.95,206.06 448.39,205.24 447.83,204.43 447.27,203.61 446.70,202.81 446.13,202.01 445.55,201.21 444.96,200.42 444.37,199.63 443.77,198.85 443.17,198.07 442.56,197.30 441.95,196.54 441.33,195.78 440.71,195.02 440.08,194.27 439.45,193.53 438.81,192.79 438.17,192.06 437.52,191.33 436.87,190.61 436.21,189.89 435.55,189.18 434.89,188.48 434.21,187.78 433.54,187.09 432.86,186.40 432.17,185.72 431.48,185.05 430.79,184.38 430.09,183.72 429.39,183.06 428.68,182.42 427.97,181.77 427.25,181.14 426.53,180.51 425.81,179.88 425.08,179.27 424.35,178.66 423.61,178.05 422.87,177.46 422.12,176.87 421.38,176.28 420.62,175.71 419.87,175.14 419.11,174.57 418.35,174.02 417.58,173.47 416.81,172.93 416.03,172.39 415.26,171.86 414.48,171.34 413.69,170.83 412.91,170.32 412.11,169.82 411.32,169.33 410.52,168.84 409.72,168.37 408.92,167.90 408.11,167.43 407.31,166.98 406.49,166.53 405.68,166.09 404.86,165.65 404.04,165.23 403.22,164.81 402.39,164.40 401.56,163.99 400.73,163.60 399.90,163.21 399.07,162.83 398.23,162.46 397.39,162.09 396.55,161.73 395.70,161.39 394.86,161.04 394.01,160.71 393.16,160.38 392.30,160.07 391.45,159.76 390.59,159.45 389.74,159.16 388.88,158.87 388.02,158.59 387.16,158.32 386.29,158.06 385.43,157.81 384.56,157.56 383.69,157.32 382.82,157.09 381.95,156.87 381.08,156.65 380.21,156.45 379.34,156.25 378.46,156.06 377.59,155.88 376.71,155.71 375.84,155.54 374.96,155.38 374.09,155.23 373.21,155.09 372.33,154.96 371.45,154.84 370.58,154.72 369.70,154.61 368.82,154.51 367.94,154.42 367.07,154.34 366.19,154.27 365.32,154.20 364.44,154.14 363.57,154.09 362.70,154.05 361.83,154.02 360.96,153.99 360.10,153.97 359.25,153.97 358.60,153.97 358.06,153.97 357.47,153.99 356.85,154.02 356.22,154.05 355.57,154.09 354.90,154.14 354.22,154.20 353.54,154.27 352.84,154.34 352.14,154.42 351.43,154.51 350.72,154.61 349.99,154.72 349.27,154.84 348.54,154.96 347.80,155.09 347.06,155.23 346.32,155.38 345.57,155.54 344.82,155.71 344.06,155.88 343.31,156.06 342.55,156.25 341.78,156.45 341.02,156.65 340.25,156.87 339.48,157.09 338.71,157.32 337.94,157.56 337.17,157.81 336.40,158.06 335.62,158.32 334.84,158.59 334.07,158.87 333.29,159.16 332.51,159.45 331.73,159.76 330.95,160.07 330.17,160.38 329.39,160.71 328.61,161.04 327.83,161.39 327.06,161.73 326.28,162.09 325.50,162.46 324.72,162.83 323.94,163.21 323.16,163.60 322.39,163.99 321.61,164.40 320.84,164.81 320.06,165.23 319.29,165.65 318.52,166.09 317.75,166.53 316.98,166.98 316.22,167.43 315.45,167.90 314.69,168.37 313.93,168.84 313.16,169.33 312.41,169.82 311.65,170.32 310.90,170.83 310.14,171.34 309.39,171.86 308.65,172.39 307.90,172.93 307.16,173.47 306.42,174.02 305.68,174.57 304.94,175.14 304.21,175.71 303.48,176.28 302.76,176.87 302.03,177.46 301.31,178.05 300.59,178.66 299.88,179.27 299.17,179.88 298.46,180.51 297.75,181.14 297.05,181.77 296.35,182.42 295.66,183.06 294.97,183.72 294.28,184.38 293.60,185.05 292.92,185.72 292.24,186.40 291.57,187.09 290.90,187.78 290.24,188.48 289.58,189.18 288.92,189.89 288.27,190.61 287.62,191.33 286.98,192.06 286.34,192.79 285.71,193.53 285.08,194.27 284.45,195.02 283.83,195.78 283.22,196.54 282.61,197.30 282.00,198.07 281.40,198.85 280.80,199.63 280.21,200.42 279.62,201.21 279.04,202.01 278.46,202.81 277.89,203.61 277.33,204.43 276.76,205.24 276.21,206.06 275.66,206.89 275.11,207.72 274.57,208.56 274.04,209.39 273.51,210.24 272.99,211.09 272.47,211.94 271.96,212.80 271.45,213.66 270.95,214.52 270.45,215.39 269.96,216.27 269.48,217.14 269.00,218.02 268.53,218.91 268.07,219.80 267.61,220.69 267.15,221.59 266.71,222.49 266.27,223.39 265.83,224.30 265.40,225.21 264.98,226.12 264.56,227.03 264.15,227.95 263.75,228.88 263.35,229.80 262.96,230.73 262.58,231.66 262.20,232.60 261.83,233.53 261.46,234.47 261.11,235.42 260.75,236.36 260.41,237.31 260.07,238.26 259.74,239.21 259.41,240.16 259.10,241.12 258.78,242.08 258.48,243.04 258.18,244.00 257.89,244.96 257.61,245.93 257.33,246.89 257.06,247.86 256.80,248.83 256.54,249.80 256.29,250.78 256.05,251.75 255.81,252.73 255.58,253.70 255.36,254.68 255.15,255.66 254.94,256.63 254.74,257.61 254.55,258.59 254.36,259.57 254.18,260.55 254.01,261.53 253.85,262.51 253.69,263.49 253.54,264.47 253.40,265.45 253.26,266.43 253.13,267.41 253.01,268.39 252.90,269.36 252.79,270.34 252.69,271.31 252.60,272.28 252.52,273.25 252.44,274.22 252.37,275.19 252.31,276.15 252.25,277.11 252.21,278.06 252.17,279.01 252.13,279.96 252.11,280.89 252.09,281.82 252.08,282.73 252.07,283.60"/>
<polyline fill="none" stroke="#000000" stroke-width="2.6" stroke-linejoin="round" points="431.27,283.60 431.26,283.20 431.26,282.73 431.25,282.24 431.23,281.72 431.21,281.18 431.19,280.64 431.17,280.08 431.13,279.52 431.10,278.94 431.06,278.36 431.02,277.77 430.97,277.18 430.92,276.58 430.86,275.98 430.80,275.37 430.73,274.76 430.67,274.14 430.59,273.52 430.52,272.89 430.44,272.27 430.35,271.64 430.26,271.01 430.17,270.37 430.07,269.73 429.97,269.09 429.86,268.45 429.75,267.81 429.64,267.16 429.52,266.52 429.40,265.87 429.27,265.22 429.14,264.57 429.01,263.92 428.87,263.27 428.73,262.61 428.58,261.96 428.43,261.31 428.28,260.65 428.12,260.00 427.96,259.34 427.79,258.68 427.62,258.03 427.45,257.37 427.27,256.72 427.08,256.06 426.90,255.41 426.71,254.75 426.51,254.10 426.32,253.44 426.11,252.79 425.91,252.14 425.70,251.49 425.48,250.83 425.26,250.18 425.04,249.54 424.82,248.89 424.59,248.24 424.35,247.59 424.12,246.95 423.87,246.31 423.63,245.66 423.38,245.02 423.13,244.39 422.87,243.75 422.61,243.11 422.35,242.48 422.08,241.85 421.81,241.22 421.53,240.59 421.25,239.96 420.97,239.34 420.68,238.72 420.39,238.10 420.10,237.48 419.80,236.87 419.50,236.25 419.19,235.64 418.89,235.04 418.57,234.43 418.26,233.83 417.94,233.23 417.61,232.63 417.29,232.04 416.96,231.45 416.62,230.86 416.29,230.27 415.95,229.69 415.60,229.11 415.25,228.53 414.90,227.96 414.55,227.39 414.19,226.82 413.83,226.26 413.46,225.70 413.09,225.14 412.72,224.59 412.34,224.04 411.97,223.50 411.58,222.95 411.20,222.42 410.81,221.88 410.42,221.35 410.02,220.82 409.62,220.30 409.22,219.78 408.82,219.27 408.41,218.75 408.00,218.25 407.58,217.74 407.16,217.25 406.74,216.75 406.32,216.26 405.89,215.77 405.46,215.29 405.02,214.82 404.59,214.34 404.15,213.87 403.70,213.41 403.26,212.95 402.81,212.50 402.35,212.04 401.90,211.60 401.44,211.16 400.98,210.72 400.52,210.29 400.05,209.86 399.58,209.44 399.10,209.03 398.63,208.61 398.15,208.21 397.67,207.81 397.18,207.41 396.69,207.02 396.20,206.63 395.71,206.25 395.21,205.87 394.71,205.50 394.21,205.13 393.71,204.77 393.20,204.42 392.69,204.07 392.18,203.72 391.66,203.38 391.14,203.05 390.62,202.72 390.10,202.40 389.57,202.08 389.04,201.77 388.51,201.46 387.97,201.16 387.43,200.87 386.89,200.58 386.35,200.29 385.80,200.01 385.25,199.74 384.70,199.47 384.15,199.21 383.59,198.96 383.03,198.71 382.47,198.46 381.90,198.23 381.34,197.99 380.77,197.77 380.19,197.55 379.62,197.33 379.04,197.12 378.45,196.92 377.87,196.73 377.28,196.53 376.69,196.35 376.10,196.17 375.50,196.00 374.90,195.83 374.30,195.67 373.69,195.52 373.08,195.37 372.47,195.23 371.85,195.09 371.23,194.96 370.61,194.84 369.98,194.72 369.35,194.61 368.71,194.50 368.07,194.40 367.43,194.31 366.78,194.22 366.12,194.14 365.46,194.07 364.80,194.00 364.13,193.93 363.45,193.88 362.76,193.83 362.06,193.78 361.35,193.75 360.63,193.72 359.89,193.69 359.14,193.67 358.35,193.66 357.50,193.65 356.82,193.65 356.41,193.66 355.99,193.67 355.56,193.69 355.13,193.72 354.68,193.75 354.24,193.78 353.78,193.83 353.33,193.88 352.87,193.93 352.41,194.00 351.95,194.07 351.49,194.14 351.02,194.22 350.56,194.31 350.09,194.40 349.62,194.50 349.15,194.61 348.68,194.72 348.21,194.84 347.73,194.96 347.26,195.09 346.78,195.23 346.31,195.37 345.83,195.52 345.36,195.67 344.88,195.83 344.41,196.00 343.93,196.17 343.45,196.35 342.98,196.53 342.50,196.73 342.03,196.92 341.55,197.12 341.08,197.33 340.60,197.55 340.13,197.77 339.65,197.99 339.18,198.23 338.70,198.46 338.23,198.71 337.76,198.96 337.29,199.21 336.81,199.47 336.34,199.74 335.88,200.01 335.41,200.29 334.94,200.58 334.47,200.87 334.01,201.16 333.54,201.46 333.08,201.77 332.61,202.08 332.15,202.40 331.69,202.72 331.23,203.05 330.77,203.38 330.32,203.72 329.86,204.07 329.41,204.42 328.96,204.77 328.50,205.13 328.06,205.50 327.61,205.87 327.16,206.25 326.72,206.63 326.27,207.02 325.83,207.41 325.39,207.81 324.95,208.21 324.52,208.61 324.08,209.03 323.65,209.44 323.22,209.86 322.79,210.29 322.36,210.72 321.94,211.16 321.51,211.60 321.09,212.04 320.67,212.50 320.26,212.95 319.84,213.41 319.43,213.87 319.02,214.34 318.61,214.82 318.21,215.29 317.80,215.77 317.40,216.26 317.00,216.75 316.61,217.25 316.21,217.74 315.82,218.25 315.43,218.75 315.05,219.27 314.66,219.78 314.28,220.30 313.91,220.82 313.53,221.35 313.16,221.88 312.79,222.42 312.42,222.95 312.05,223.50 311.69,224.04 311.33,224.59 310.98,225.14 310.62,225.70 310.27,226.26 309.92,226.82 309.58,227.39 309.24,227.96 308.90,228.53 308.56,229.11 308.23,229.69 307.90,230.27 307.57,230.86 307.25,231.45 306.93,232.04 306.61,232.63 306.30,233.23 305.99,233.83 305.68,234.43 305.38,235.04 305.07,235.64 304.78,236.25 304.48,236.87 304.19,237.48 303.90,238.10 303.62,238.72 303.34,239.34 303.06,239.96 302.79,240.59 302.52,241.22 302.25,241.85 301.99,242.48 301.73,243.11 301.47,243.75 301.22,244.39 300.97,245.02 300.72,245.66 300.48,246.31 300.24,246.95 300.01,247.59 299.78,248.24 299.55,248.89 299.33,249.54 299.11,250.18 298.89,250.83 298.68,251.49 298.47,252.14 298.27,252.79 298.06,253.44 297.87,254.10 297.67,254.75 297.48,255.41 297.30,256.06 297.12,256.72 296.94,257.37 296.77,258.03 296.60,258.68 296.43,259.34 296.27,260.00 296.11,260.65 295.96,261.31 295.81,261.96 295.66,262.61 295.52,263.27 295.38,263.92 295.24,264.57 295.11,265.22 294.99,265.87 294.87,266.52 294.75,267.16 294.63,267.81 294.52,268.45 294.42,269.09 294.32,269.73 294.22,270.37 294.13,271.01 294.04,271.64 293.95,272.27 293.87,272.89 293.79,273.52 293.72,274.14 293.65,274.76 293.59,275.37 293.53,275.98 293.47,276.58 293.42,277.18 293.37,277.77 293.33,278.36 293.29,278.94 293.25,279.52 293.22,280.08 293.19,280.64 293.17,281.18 293.15,281.72 293.14,282.24 293.12,282.73 293.12,283.20 293.12,283.60"/>
<polyline fill="none" stroke="#000000" stroke-width="2.6" stroke-linejoin="round" points="408.97,283.60 408.97,282.99 408.96,282.40 408.96,281.83 408.95,281.26 408.93,280.70 408.91,280.14 408.89,279.59 408.87,279.04 408.84,278.49 408.81,277.94 408.78,277.40 408.75,276.85 408.71,276.31 408.66,275.78 408.62,275.24 408.57,274.70 408.52,274.17 408.46,273.64 408.41,273.11 408.35,272.58 408.28,272.05 408.22,271.52 408.15,271.00 408.07,270.48 408.00,269.95 407.92,269.43 407.83,268.92 407.75,268.40 407.66,267.88 407.57,267.37 407.48,266.86 407.38,266.35 407.28,265.84 407.17,265.33 407.07,264.82 406.96,264.32 406.85,263.82 406.73,263.32 406.61,262.82 406.49,262.32 406.37,261.82 406.24,261.33 406.11,260.83 405.98,260.34 405.84,259.85 405.70,259.37 405.56,258.88 405.42,258.40 405.27,257.91 405.12,257.43 404.97,256.96 404.81,256.48 404.65,256.01 404.49,255.53 404.32,255.06 404.16,254.59 403.99,254.13 403.82,253.66 403.64,253.20 403.46,252.74 403.28,252.28 403.10,251.82 402.91,251.37 402.72,250.92 402.53,250.47 402.34,250.02 402.14,249.57 401.94,249.13 401.74,248.69 401.53,248.25 401.33,247.81 401.12,247.38 400.91,246.95 400.69,246.52 400.47,246.09 400.25,245.67 400.03,245.25 399.81,244.83 399.58,244.41 399.35,243.99 399.12,243.58 398.88,243.17 398.65,242.76 398.41,242.36 398.17,241.96 397.92,241.56 397.68,241.16 397.43,240.77 397.18,240.38 396.93,239.99 396.67,239.60 396.42,239.22 396.16,238.84 395.90,238.46 395.63,238.09 395.37,237.72 395.10,237.35 394.83,236.98 394.56,236.62 394.28,236.26 394.01,235.90 393.73,235.54 393.45,235.19 393.17,234.85 392.89,234.50 392.60,234.16 392.31,233.82 392.02,233.48 391.73,233.15 391.44,232.82 391.15,232.49 390.85,232.17 390.55,231.85 390.25,231.53 389.95,231.21 389.65,230.90 389.34,230.60 389.04,230.29 388.73,229.99 388.42,229.69 388.11,229.40 387.80,229.10 387.48,228.82 387.17,228.53 386.85,228.25 386.53,227.97 386.22,227.70 385.90,227.42 385.57,227.16 385.25,226.89 384.93,226.63 384.60,226.37 384.27,226.12 383.94,225.87 383.62,225.62 383.29,225.38 382.95,225.14 382.62,224.90 382.29,224.67 381.95,224.44 381.62,224.21 381.28,223.99 380.95,223.77 380.61,223.55 380.27,223.34 379.93,223.13 379.59,222.93 379.25,222.73 378.91,222.53 378.56,222.34 378.22,222.15 377.88,221.96 377.53,221.78 377.19,221.60 376.84,221.43 376.50,221.26 376.15,221.09 375.80,220.93 375.46,220.77 375.11,220.61 374.76,220.46 374.41,220.31 374.07,220.17 373.72,220.03 373.37,219.89 373.02,219.75 372.67,219.63 372.33,219.50 371.98,219.38 371.63,219.26 371.28,219.15 370.93,219.04 370.59,218.93 370.24,218.83 369.89,218.73 369.55,218.64 369.20,218.55 368.86,218.46 368.51,218.38 368.17,218.30 367.83,218.22 367.49,218.15 367.15,218.08 366.81,218.02 366.47,217.96 366.13,217.91 365.80,217.85 365.47,217.81 365.13,217.76 364.80,217.72 364.48,217.69 364.15,217.66 363.83,217.63 363.51,217.61 363.20,217.59 362.89,217.57 362.59,217.56 362.29,217.55 362.02,217.55 361.60,217.55 361.10,217.55 360.62,217.56 360.16,217.57 359.70,217.59 359.26,217.61 358.82,217.63 358.38,217.66 357.95,217.69 357.53,217.72 357.10,217.76 356.68,217.81 356.27,217.85 355.86,217.91 355.45,217.96 355.04,218.02 354.63,218.08 354.23,218.15 353.83,218.22 353.43,218.30 353.03,218.38 352.64,218.46 352.24,218.55 351.85,218.64 351.46,218.73 351.07,218.83 350.69,218.93 350.30,219.04 349.92,219.15 349.54,219.26 349.16,219.38 348.79,219.50 348.41,219.63 348.03,219.75 347.66,219.89 347.29,220.03 346.92,220.17 346.55,220.31 346.19,220.46 345.82,220.61 345.46,220.77 345.10,220.93 344.74,221.09 344.38,221.26 344.02,221.43 343.67,221.60 343.32,221.78 342.96,221.96 342.61,222.15 342.27,222.34 341.92,222.53 341.57,222.73 341.23,222.93 340.89,223.13 340.55,223.34 340.21,223.55 339.87,223.77 339.54,223.99 339.20,224.21 338.87,224.44 338.54,224.67 338.21,224.90 337.89,225.14 337.56,225.38 337.24,225.62 336.92,225.87 336.60,226.12 336.28,226.37 335.96,226.63 335.65,226.89 335.34,227.16 335.02,227.42 334.72,227.70 334.41,227.97 334.10,228.25 333.80,228.53 333.50,228.82 333.20,229.10 332.90,229.40 332.61,229.69 332.31,229.99 332.02,230.29 331.73,230.60 331.44,230.90 331.16,231.21 330.87,231.53 330.59,231.85 330.31,232.17 330.03,232.49 329.76,232.82 329.48,233.15 329.21,233.48 328.94,233.82 328.67,234.16 328.41,234.50 328.14,234.85 327.88,235.19 327.62,235.54 327.36,235.90 327.11,236.26 326.86,236.62 326.61,236.98 326.36,237.35 326.11,237.72 325.87,238.09 325.62,238.46 325.38,238.84 325.15,239.22 324.91,239.60 324.68,239.99 324.45,240.38 324.22,240.77 323.99,241.16 323.77,241.56 323.54,241.96 323.33,242.36 323.11,242.76 322.89,243.17 322.68,243.58 322.47,243.99 322.26,244.41 322.06,244.83 321.85,245.25 321.65,245.67 321.45,246.09 321.26,246.52 321.06,246.95 320.87,247.38 320.68,247.81 320.50,248.25 320.31,248.69 320.13,249.13 319.95,249.57 319.78,250.02 319.60,250.47 319.43,250.92 319.26,251.37 319.10,251.82 318.93,252.28 318.77,252.74 318.61,253.20 318.45,253.66 318.30,254.13 318.15,254.59 318.00,255.06 317.85,255.53 317.71,256.01 317.57,256.48 317.43,256.96 317.29,257.43 317.16,257.91 317.03,258.40 316.90,258.88 316.77,259.37 316.65,259.85 316.53,260.34 316.41,260.83 316.30,261.33 316.19,261.82 316.08,262.32 315.97,262.82 315.86,263.32 315.76,263.82 315.66,264.32 315.57,264.82 315.47,265.33 315.38,265.84 315.29,266.35 315.21,266.86 315.12,267.37 315.04,267.88 314.96,268.40 314.89,268.92 314.82,269.43 314.75,269.95 314.68,270.48 314.61,271.00 314.55,271.52 314.49,272.05 314.44,272.58 314.38,273.11 314.33,273.64 314.29,274.17 314.24,274.70 314.20,275.24 314.16,275.78 314.12,276.31 314.09,276.85 314.06,277.40 314.03,277.94 314.00,278.49 313.98,279.04 313.96,279.59 313.94,280.14 313.92,280.70 313.91,281.26 313.90,281.83 313.89,282.40 313.89,282.99 313.89,283.60"/>
<polyline fill="none" stroke="#FF0000" stroke-width="3.0" stroke-dasharray="0 6.25" stroke-linecap="round" points="89.50,282.60 95.60,283.40 101.70,283.40 105.40,281.60 105.55,280.95 105.75,280.04 105.99,278.97 106.25,277.81 106.49,276.66 106.70,275.60 106.87,274.61 107.01,273.63 107.14,272.66 107.28,271.68 107.43,270.69 107.60,269.70 107.81,268.69 108.03,267.67 108.27,266.65 108.52,265.63 108.77,264.61 109.00,263.60 109.22,262.61 109.44,261.62 109.66,260.64 109.87,259.67 110.08,258.69 110.30,257.70 110.52,256.71 110.74,255.73 110.96,254.74 111.18,253.74 111.39,252.73 111.60,251.70 111.79,250.64 111.97,249.55 112.15,248.45 112.33,247.35 112.51,246.26 112.70,245.20 112.91,244.17 113.13,243.16 113.36,242.16 113.59,241.17 113.80,240.19 114.00,239.20 114.17,238.21 114.31,237.23 114.45,236.26 114.59,235.28 114.73,234.29 114.90,233.30 115.10,232.30 115.32,231.30 115.55,230.29 115.78,229.27 116.00,228.24 116.20,227.20 116.37,226.13 116.53,225.04 116.67,223.94 116.81,222.84 116.95,221.76 117.10,220.70 117.26,219.67 117.42,218.67 117.58,217.67 117.75,216.69 117.92,215.70 118.10,214.70 118.29,213.69 118.49,212.68 118.70,211.67 118.91,210.65 119.11,209.63 119.30,208.60 119.48,207.55 119.65,206.49 119.81,205.42 119.97,204.36 120.14,203.31 120.30,202.30 120.46,201.33 120.63,200.41 120.79,199.50 120.95,198.59 121.12,197.67 121.30,196.70 121.49,195.69 121.69,194.66 121.90,193.61 122.11,192.54 122.31,191.47 122.50,190.40 122.67,189.32 122.83,188.23 122.97,187.13 123.13,186.03 123.30,184.95 123.50,183.90 123.74,182.88 124.00,181.89 124.29,180.92 124.57,179.95 124.85,178.98 125.10,178.00 125.32,177.00 125.52,176.00 125.71,174.99 125.90,173.99 126.09,172.99 126.30,172.00 126.52,171.03 126.76,170.06 126.99,169.11 127.23,168.15 127.47,167.18 127.70,166.20 127.91,165.20 128.11,164.19 128.31,163.17 128.51,162.14 128.74,161.12 129.00,160.10 129.30,159.08 129.64,158.06 129.99,157.04 130.36,156.02 130.73,155.01 131.10,154.00 131.46,153.01 131.82,152.02 132.19,151.04 132.56,150.06 132.93,149.08 133.30,148.10 133.67,147.12 134.04,146.13 134.41,145.15 134.79,144.17 135.18,143.18 135.60,142.20 136.04,141.21 136.50,140.20 136.98,139.19 137.47,138.20 137.98,137.23 138.50,136.30 139.03,135.41 139.57,134.55 140.12,133.71 140.70,132.90 141.29,132.09 141.90,131.30 142.54,130.52 143.21,129.75 143.89,128.99 144.59,128.25 145.30,127.52 146.00,126.80 146.70,126.09 147.40,125.40 148.11,124.71 148.82,124.04 149.55,123.37 150.30,122.70 151.06,122.04 151.82,121.39 152.59,120.74 153.39,120.10 154.22,119.45 155.10,118.80 156.05,118.13 157.06,117.45 158.11,116.77 159.16,116.09 160.17,115.43 161.10,114.80 161.95,114.20 162.74,113.64 163.49,113.09 164.23,112.54 164.96,111.98 165.70,111.40 166.44,110.79 167.16,110.17 167.88,109.54 168.61,108.90 169.38,108.26 170.20,107.60 171.10,106.93 172.07,106.26 173.07,105.57 174.07,104.88 175.03,104.19 175.90,103.50 176.67,102.81 177.37,102.12 178.03,101.43 178.66,100.74 179.31,100.07 180.00,99.40 180.72,98.75 181.45,98.11 182.19,97.49 182.95,96.86 183.72,96.24 184.50,95.60 185.31,94.96 186.15,94.31 187.00,93.67 187.85,93.02 188.69,92.36 189.50,91.70 190.27,91.03 191.02,90.35 191.75,89.66 192.48,88.97 193.23,88.29 194.00,87.60 194.81,86.91 195.64,86.22 196.48,85.53 197.33,84.84 198.17,84.17 199.00,83.50 199.81,82.85 200.61,82.21 201.40,81.59 202.19,80.96 202.99,80.34 203.80,79.70 204.62,79.05 205.46,78.39 206.29,77.73 207.13,77.07 207.97,76.42 208.80,75.80 209.62,75.20 210.43,74.63 211.23,74.07 212.04,73.51 212.86,72.96 213.70,72.40 214.56,71.83 215.44,71.27 216.33,70.70 217.23,70.13 218.12,69.57 219.00,69.00 219.87,68.43 220.75,67.85 221.62,67.27 222.49,66.70 223.35,66.14 224.20,65.60 225.04,65.10 225.85,64.63 226.66,64.18 227.48,63.72 228.32,63.24 229.20,62.70 230.12,62.10 231.09,61.44 232.07,60.76 233.07,60.08 234.05,59.42 235.00,58.80 235.92,58.24 236.82,57.70 237.71,57.19 238.60,56.70 239.49,56.20 240.40,55.70 241.32,55.19 242.25,54.68 243.19,54.17 244.13,53.67 245.06,53.18 246.00,52.70 246.93,52.24 247.86,51.80 248.79,51.37 249.72,50.94 250.66,50.52 251.60,50.10 252.55,49.67 253.51,49.24 254.47,48.81 255.44,48.39 256.42,47.99 257.40,47.60 258.39,47.24 259.39,46.91 260.39,46.59 261.40,46.28 262.40,45.95 263.40,45.60 264.39,45.22 265.37,44.81 266.36,44.39 267.34,43.98 268.32,43.58 269.30,43.20 270.28,42.85 271.27,42.53 272.26,42.22 273.24,41.91 274.22,41.61 275.20,41.30 276.17,40.98 277.13,40.66 278.09,40.33 279.05,40.01 280.02,39.70 281.00,39.40 282.00,39.11 283.01,38.84 284.04,38.57 285.06,38.31 286.09,38.05 287.10,37.80 288.10,37.55 289.10,37.30 290.10,37.06 291.10,36.83 292.10,36.61 293.10,36.40 294.11,36.21 295.13,36.04 296.16,35.88 297.18,35.72 298.19,35.56 299.20,35.40 300.19,35.23 301.17,35.07 302.14,34.91 303.11,34.74 304.10,34.57 305.10,34.40 306.20,34.21 307.40,34.00 308.62,33.79 309.75,33.59 310.71,33.42 311.40,33.30 314.57,32.36 315.27,32.26 315.98,32.16 316.69,32.05 317.40,31.96 318.11,31.86 318.83,31.76 319.54,31.67 320.25,31.58 320.97,31.49 321.69,31.40 322.41,31.31 323.13,31.22 323.85,31.14 324.57,31.06 325.30,30.98 326.02,30.90 326.75,30.82 327.48,30.75 328.21,30.68 328.94,30.61 329.68,30.54 330.41,30.47 331.15,30.40 331.89,30.34 332.63,30.27 333.37,30.21 334.11,30.15 334.86,30.10 335.60,30.04 336.35,29.99 337.10,29.93 337.86,29.88 338.61,29.84 339.37,29.79 340.13,29.74 340.89,29.70 341.66,29.66 342.42,29.62 343.19,29.58 343.97,29.54 344.74,29.51 345.52,29.47 346.30,29.44 347.09,29.41 347.88,29.39 348.67,29.36 349.47,29.33 350.27,29.31 351.07,29.29 351.89,29.27 352.70,29.25 353.53,29.24 354.36,29.22 355.20,29.21 356.05,29.20 356.91,29.19 357.78,29.19 358.68,29.18 359.60,29.18 360.58,29.18 361.33,29.18 361.80,29.18 362.29,29.18 362.81,29.19 363.33,29.19 363.87,29.20 364.41,29.21 364.96,29.22 365.52,29.24 366.08,29.25 366.65,29.27 367.22,29.29 367.80,29.31 368.38,29.33 368.96,29.36 369.55,29.39 370.14,29.41 370.73,29.44 371.33,29.47 371.93,29.51 372.53,29.54 373.13,29.58 373.74,29.62 374.34,29.66 374.95,29.70 375.57,29.74 376.18,29.79 376.80,29.84 377.41,29.88 378.03,29.93 378.65,29.99 379.28,30.04 379.90,30.10 380.52,30.15 381.15,30.21 381.78,30.27 382.41,30.34 383.04,30.40 383.67,30.47 384.31,30.54 384.94,30.61 385.58,30.68 386.21,30.75 386.85,30.82 387.49,30.90 388.13,30.98 388.77,31.06 389.41,31.14 390.06,31.22 390.70,31.31 391.34,31.40 391.99,31.49 392.64,31.58 393.28,31.67 393.93,31.76 394.58,31.86 395.23,31.96 395.88,32.05 396.53,32.16 397.18,32.26 397.83,32.36 398.49,32.47 399.14,32.58 399.79,32.68 400.45,32.80 401.10,32.91 401.76,33.02 402.41,33.14 403.07,33.26 403.73,33.38 404.39,33.50 405.04,33.62 405.70,33.75 406.36,33.87 407.02,34.00 407.68,34.13 408.34,34.26 409.00,34.40 409.66,34.53 410.32,34.67 410.98,34.81 411.65,34.95 412.31,35.09 412.97,35.23 413.63,35.38 414.30,35.53 414.96,35.67 415.62,35.83 416.29,35.98 416.95,36.13 417.61,36.29 418.28,36.44 418.94,36.60 419.61,36.76 420.27,36.93 420.94,37.09 421.60,37.26 422.27,37.42 422.93,37.59 423.60,37.76 424.26,37.94 424.93,38.11 425.59,38.29 426.26,38.46 426.93,38.64 427.59,38.82 428.26,39.01 428.92,39.19 429.59,39.38 430.25,39.56 430.92,39.75 431.59,39.94 432.25,40.14 432.92,40.33 433.58,40.53 434.25,40.72 434.91,40.92 435.58,41.12 436.24,41.33 436.91,41.53 437.57,41.74 438.24,41.94 438.90,42.15 439.57,42.37 440.23,42.58 440.90,42.79 441.56,43.01 442.22,43.23 442.89,43.44 443.55,43.67 444.22,43.89 444.88,44.11 445.54,44.34 446.20,44.56 446.87,44.79 447.53,45.02 448.19,45.26 448.85,45.49 449.51,45.73 450.18,45.96 450.84,46.20 451.50,46.44 452.16,46.68 452.82,46.93 453.48,47.17 454.14,47.42 454.80,47.67 455.46,47.92 456.11,48.17 456.77,48.42 457.43,48.68 458.09,48.94 458.74,49.19 459.40,49.45 460.06,49.72 460.71,49.98 461.37,50.24 462.02,50.51 462.68,50.78 463.33,51.05 463.99,51.32 464.64,51.59 465.29,51.87 465.94,52.14 466.60,52.42 467.25,52.70 467.90,52.98 468.55,53.26 469.20,53.54 469.85,53.83 470.50,54.12 471.15,54.40 471.79,54.69 472.44,54.99 473.09,55.28 473.73,55.57 474.38,55.87 475.03,56.17 475.67,56.47 476.31,56.77 476.96,57.07 477.60,57.38 478.24,57.68 478.88,57.99 479.53,58.30 480.17,58.61 480.81,58.92 481.45,59.23 482.08,59.55 482.72,59.86 483.36,60.18 484.00,60.50 484.63,60.82 485.27,61.15 485.90,61.47 486.54,61.80 487.17,62.12 487.80,62.45 488.43,62.78 489.07,63.11 489.70,63.45 490.33,63.78 490.96,64.12 491.58,64.46 492.21,64.79 492.84,65.14 493.46,65.48 494.09,65.82 494.71,66.17 495.34,66.51 495.96,66.86 496.58,67.21 497.21,67.56 497.83,67.91 498.45,68.27 499.07,68.62 499.68,68.98 500.30,69.34 500.92,69.70 501.53,70.06 502.15,70.43 502.76,70.79 503.38,71.16 503.99,71.52 504.60,71.89 505.21,72.26 505.82,72.63 506.43,73.01 507.04,73.38 507.65,73.76 508.25,74.13 508.86,74.51 509.46,74.89 510.07,75.28 510.67,75.66 511.27,76.04 511.87,76.43 512.47,76.82 513.07,77.21 513.67,77.60 514.27,77.99 514.86,78.38 515.46,78.78 516.05,79.17 516.64,79.57 517.24,79.97 517.83,80.37 518.42,80.77 519.01,81.17 519.60,81.58 520.18,81.98 520.77,82.39 521.35,82.80 521.94,83.21 522.52,83.62 523.10,84.03 523.68,84.45 524.26,84.86 524.84,85.28 525.42,85.70 526.00,86.12 526.57,86.54 527.15,86.96 527.72,87.38 528.29,87.81 528.87,88.23 529.44,88.66 530.01,89.09 530.57,89.52 531.14,89.95 531.71,90.38 532.27,90.82 532.84,91.25 533.40,91.69 533.96,92.13 534.52,92.57 535.08,93.01 535.64,93.45 536.19,93.90 536.75,94.34 537.30,94.79 537.86,95.23 538.41,95.68 538.96,96.13 539.51,96.58 540.06,97.04 540.60,97.49 541.15,97.94 541.70,98.40 542.24,98.86 542.78,99.32 543.32,99.78 543.86,100.24 544.40,100.70 544.94,101.16 545.48,101.63 546.01,102.10 546.54,102.56 547.08,103.03 547.61,103.50 548.14,103.97 548.67,104.45 549.19,104.92 549.72,105.40 550.24,105.87 550.77,106.35 551.29,106.83 551.81,107.31 552.33,107.79 552.85,108.27 553.37,108.75 553.88,109.24 554.40,109.72 554.91,110.21 555.42,110.70 555.93,111.19 556.44,111.68 556.95,112.17 557.45,112.67 557.96,113.16 558.46,113.65 558.96,114.15 559.46,114.65 559.96,115.15 560.46,115.65 560.96,116.15 561.45,116.65 561.95,117.15 562.44,117.66 562.93,118.17 563.42,118.67 563.91,119.18 564.40,119.69 564.88,120.20 565.37,120.71 565.85,121.22 566.33,121.74 566.81,122.25 567.29,122.77 567.76,123.28 568.24,123.80 568.71,124.32 569.18,124.84 569.66,125.36 570.13,125.89 570.59,126.41 571.06,126.93 571.52,127.46 571.99,127.99 572.45,128.51 572.91,129.04 573.37,129.57 573.83,130.10 574.28,130.64 574.74,131.17 575.19,131.70 575.64,132.24 576.09,132.77 576.54,133.31 576.99,133.85 577.43,134.39 577.88,134.93 578.32,135.47 578.76,136.01 579.20,136.56 579.64,137.10 580.07,137.65 580.51,138.19 580.94,138.74 581.37,139.29 581.80,139.84 582.23,140.39 582.66,140.94 583.08,141.49 583.50,142.05 583.93,142.60 584.35,143.16 584.77,143.71 585.18,144.27 585.60,144.83 586.01,145.39 586.42,145.95 586.83,146.51 587.24,147.07 587.65,147.63 588.06,148.20 588.46,148.76 588.86,149.33 589.26,149.89 589.66,150.46 590.06,151.03 590.46,151.60 590.85,152.17 591.24,152.74 591.63,153.31 592.02,153.89 592.41,154.46 592.80,155.03 593.18,155.61 593.56,156.19 593.94,156.76 594.32,157.34 594.70,157.92 595.08,158.50 595.45,159.08 595.82,159.66 596.19,160.25 596.56,160.83 596.93,161.41 597.30,162.00 597.66,162.58 598.02,163.17 598.38,163.76 598.74,164.35 599.10,164.94 599.45,165.53 599.81,166.12 600.16,166.71 600.51,167.30 600.86,167.90 601.20,168.49 601.55,169.08 601.89,169.68 602.23,170.28 602.57,170.87 602.91,171.47 603.25,172.07 603.58,172.67 603.91,173.27 604.24,173.87 604.57,174.47 604.90,175.08 605.22,175.68 605.55,176.28 605.87,176.89 606.19,177.49 606.51,178.10 606.82,178.71 607.14,179.32 607.45,179.92 607.76,180.53 608.07,181.14 608.38,181.75 608.69,182.36 608.99,182.98 609.29,183.59 609.59,184.20 609.89,184.82 610.19,185.43 610.48,186.05 610.77,186.66 611.06,187.28 611.35,187.90 611.64,188.52 611.93,189.13 612.21,189.75 612.49,190.37 612.77,190.99 613.05,191.62 613.33,192.24 613.60,192.86 613.87,193.48 614.14,194.11 614.41,194.73 614.68,195.36 614.94,195.98 615.21,196.61 615.47,197.24 615.73,197.86 615.99,198.49 616.24,199.12 616.50,199.75 616.75,200.38 617.00,201.01 617.25,201.64 617.49,202.27 617.74,202.90 617.98,203.54 618.22,204.17 618.46,204.80 618.70,205.44 618.93,206.07 619.16,206.71 619.39,207.35 619.62,207.98 619.85,208.62 620.08,209.26 620.30,209.89 620.52,210.53 620.74,211.17 620.96,211.81 621.18,212.45 621.39,213.09 621.60,213.73 621.81,214.37 622.02,215.02 622.23,215.66 622.43,216.30 622.63,216.95 622.83,217.59 623.03,218.23 623.23,218.88 623.42,219.52 623.61,220.17 623.81,220.82 623.99,221.46 624.18,222.11 624.37,222.76 624.55,223.41 624.73,224.05 624.91,224.70 625.09,225.35 625.26,226.00 625.43,226.65 625.61,227.30 625.77,227.95 625.94,228.60 626.11,229.25 626.27,229.91 626.43,230.56 626.59,231.21 626.75,231.86 626.90,232.52 627.06,233.17 627.21,233.83 627.36,234.48 627.51,235.14 627.65,235.79 627.80,236.45 627.94,237.10 628.08,237.76 628.21,238.41 628.35,239.07 628.48,239.73 628.62,240.39 628.74,241.04 628.87,241.70 629.00,242.36 629.12,243.02 629.24,243.68 629.36,244.34 629.48,245.00 629.60,245.66 629.71,246.32 629.82,246.98 629.93,247.64 630.04,248.30 630.15,248.96 630.25,249.62 630.35,250.28 630.45,250.94 630.55,251.61 630.65,252.27 630.74,252.93 630.83,253.59 630.92,254.26 631.01,254.92 631.09,255.58 631.18,256.25 631.26,256.91 631.34,257.58 631.42,258.24 631.49,258.90 631.57,259.57 631.64,260.23 631.71,260.90 631.78,261.56 631.84,262.23 631.90,262.89 631.97,263.56 632.03,264.23 632.08,264.89 632.14,265.56 632.19,266.23 632.24,266.89 632.29,267.56 632.34,268.23 632.39,268.89 632.43,269.56 632.47,270.23 632.51,270.89 632.55,271.56 632.58,272.23 632.62,272.90 632.65,273.56 632.68,274.23 632.71,274.90 632.73,275.57 632.75,276.24 632.78,276.91 632.79,277.57 632.81,278.24 632.83,278.91 632.84,279.58 632.85,280.25 632.86,280.92 632.87,281.59 632.87,282.26 632.88,282.93 632.88,283.60"/>
<polyline fill="none" stroke="#FF0000" stroke-width="3.0" stroke-dasharray="0 6.25" stroke-linecap="round" points="523.16,283.60 523.15,282.23 523.14,280.82 523.12,279.40 523.08,277.97 523.04,276.53 522.99,275.09 522.93,273.64 522.86,272.18 522.78,270.73 522.69,269.27 522.59,267.81 522.49,266.35 522.37,264.88 522.24,263.42 522.11,261.95 521.97,260.49 521.81,259.02 521.65,257.56 521.48,256.09 521.30,254.62 521.11,253.16 520.91,251.69 520.70,250.23 520.48,248.76 520.25,247.30 520.01,245.84 519.77,244.38 519.51,242.92 519.25,241.46 518.98,240.00 518.69,238.55 518.40,237.10 518.10,235.65 517.79,234.20 517.47,232.75 517.15,231.31 516.81,229.87 516.46,228.43 516.11,226.99 515.75,225.56 515.37,224.13 514.99,222.70 514.60,221.28 514.20,219.86 513.79,218.44 513.37,217.03 512.95,215.62 512.51,214.21 512.07,212.81 511.62,211.41 511.15,210.02 510.68,208.63 510.20,207.24 509.72,205.86 509.22,204.48 508.72,203.11 508.20,201.74 507.68,200.38 507.15,199.02 506.61,197.67 506.06,196.32 505.50,194.98 504.94,193.64 504.36,192.31 503.78,190.98 503.19,189.66 502.59,188.34 501.98,187.03 501.37,185.72 500.74,184.42 500.11,183.13 499.47,181.84 498.82,180.56 498.16,179.29 497.50,178.02 496.82,176.76 496.14,175.50 495.45,174.25 494.75,173.01 494.05,171.77 493.33,170.54 492.61,169.32 491.88,168.11 491.14,166.90 490.40,165.70 489.64,164.50 488.88,163.32 488.11,162.14 487.34,160.96 486.55,159.80 485.76,158.64 484.96,157.49 484.15,156.35 483.34,155.22 482.51,154.09 481.68,152.98 480.85,151.87 480.00,150.77 479.15,149.67 478.29,148.59 477.42,147.51 476.54,146.44 475.66,145.39 474.77,144.33 473.88,143.29 472.97,142.26 472.06,141.23 471.14,140.22 470.22,139.21 469.29,138.21 468.35,137.23 467.40,136.25 466.45,135.28 465.49,134.31 464.52,133.36 463.55,132.42 462.57,131.49 461.58,130.56 460.59,129.65 459.59,128.75 458.58,127.85 457.57,126.97 456.55,126.09 455.52,125.23 454.49,124.37 453.45,123.52 452.40,122.69 451.35,121.86 450.29,121.05 449.23,120.24 448.15,119.45 447.08,118.67 445.99,117.89 444.90,117.13 443.81,116.38 442.71,115.63 441.60,114.90 440.48,114.18 439.36,113.47 438.24,112.77 437.10,112.08 435.96,111.40 434.82,110.73 433.67,110.08 432.51,109.43 431.35,108.80 430.18,108.17 429.01,107.56 427.83,106.96 426.65,106.37 425.45,105.79 424.26,105.22 423.06,104.66 421.85,104.12 420.63,103.58 419.41,103.06 418.19,102.55 416.96,102.05 415.72,101.56 414.48,101.08 413.23,100.62 411.98,100.16 410.72,99.72 409.45,99.29 408.18,98.87 406.90,98.46 405.62,98.07 404.33,97.68 403.04,97.31 401.74,96.95 400.43,96.60 399.12,96.27 397.80,95.94 396.47,95.63 395.14,95.33 393.80,95.04 392.46,94.76 391.11,94.49 389.75,94.24 388.38,94.00 387.01,93.77 385.62,93.55 384.23,93.34 382.84,93.15 381.43,92.97 380.01,92.80 378.59,92.64 377.15,92.50 375.70,92.36 374.24,92.24 372.76,92.13 371.27,92.03 369.76,91.95 368.23,91.88 366.68,91.82 365.10,91.77 363.47,91.73 361.79,91.71 360.01,91.70 358.05,91.70 356.41,91.71 354.84,91.73 353.31,91.77 351.82,91.82 350.35,91.88 348.90,91.95 347.47,92.03 346.05,92.13 344.64,92.24 343.24,92.36 341.85,92.50 340.47,92.64 339.10,92.80 337.74,92.97 336.39,93.15 335.04,93.34 333.70,93.55 332.37,93.77 331.04,94.00 329.72,94.24 328.40,94.49 327.09,94.76 325.79,95.04 324.49,95.33 323.20,95.63 321.92,95.94 320.64,96.27 319.36,96.60 318.09,96.95 316.83,97.31 315.57,97.68 314.31,98.07 313.06,98.46 311.82,98.87 310.58,99.29 309.35,99.72 308.12,100.16 306.89,100.62 305.67,101.08 304.46,101.56 303.25,102.05 302.05,102.55 300.85,103.06 299.66,103.58 298.47,104.12 297.29,104.66 296.11,105.22 294.94,105.79 293.77,106.37 292.61,106.96 291.46,107.56 290.31,108.17 289.16,108.80 288.02,109.43 286.89,110.08 285.76,110.73 284.64,111.40 283.52,112.08 282.41,112.77 281.30,113.47 280.20,114.18 279.10,114.90 278.01,115.63 276.93,116.38 275.85,117.13 274.78,117.89 273.71,118.67 272.65,119.45 271.60,120.24 270.55,121.05 269.51,121.86 268.47,122.69 267.44,123.52 266.42,124.37 265.40,125.23 264.39,126.09 263.38,126.97 262.38,127.85 261.39,128.75 260.40,129.65 259.42,130.56 258.45,131.49 257.48,132.42 256.52,133.36 255.57,134.31 254.62,135.28 253.68,136.25 252.74,137.23 251.82,138.21 250.90,139.21 249.98,140.22 249.07,141.23 248.17,142.26 247.28,143.29 246.40,144.33 245.52,145.39 244.64,146.44 243.78,147.51 242.92,148.59 242.07,149.67 241.23,150.77 240.39,151.87 239.56,152.98 238.74,154.09 237.93,155.22 237.12,156.35 236.32,157.49 235.53,158.64 234.74,159.80 233.97,160.96 233.20,162.14 232.43,163.32 231.68,164.50 230.93,165.70 230.19,166.90 229.46,168.11 228.74,169.32 228.02,170.54 227.32,171.77 226.62,173.01 225.93,174.25 225.24,175.50 224.57,176.76 223.90,178.02 223.24,179.29 222.59,180.56 221.94,181.84 221.31,183.13 220.68,184.42 220.06,185.72 219.45,187.03 218.85,188.34 218.25,189.66 217.67,190.98 217.09,192.31 216.52,193.64 215.96,194.98 215.40,196.32 214.86,197.67 214.33,199.02 213.80,200.38 213.28,201.74 212.77,203.11 212.27,204.48 211.77,205.86 211.29,207.24 210.81,208.63 210.35,210.02 209.89,211.41 209.44,212.81 209.00,214.21 208.57,215.62 208.14,217.03 207.73,218.44 207.32,219.86 206.92,221.28 206.54,222.70 206.16,224.13 205.79,225.56 205.43,226.99 205.07,228.43 204.73,229.87 204.39,231.31 204.07,232.75 203.75,234.20 203.44,235.65 203.15,237.10 202.86,238.55 202.58,240.00 202.30,241.46 202.04,242.92 201.79,244.38 201.54,245.84 201.31,247.30 201.08,248.76 200.87,250.23 200.66,251.69 200.46,253.16 200.27,254.62 200.09,256.09 199.92,257.56 199.76,259.02 199.61,260.49 199.46,261.95 199.33,263.42 199.20,264.88 199.09,266.35 198.98,267.81 198.88,269.27 198.80,270.73 198.72,272.18 198.65,273.64 198.59,275.09 198.54,276.53 198.49,277.97 198.46,279.40 198.44,280.82 198.42,282.23 198.42,283.60"/>
<polyline fill="none" stroke="#FF0000" stroke-width="3.0" stroke-dasharray="0 6.25" stroke-linecap="round" points="471.06,283.60 471.06,282.60 471.05,281.55 471.04,280.49 471.01,279.42 470.99,278.34 470.95,277.26 470.91,276.17 470.86,275.07 470.81,273.98 470.75,272.88 470.68,271.78 470.61,270.67 470.53,269.57 470.45,268.46 470.35,267.35 470.26,266.24 470.15,265.13 470.04,264.02 469.93,262.90 469.80,261.79 469.67,260.68 469.54,259.57 469.40,258.45 469.25,257.34 469.10,256.23 468.94,255.12 468.77,254.01 468.60,252.90 468.42,251.79 468.23,250.68 468.04,249.57 467.84,248.46 467.64,247.36 467.43,246.26 467.21,245.15 466.99,244.05 466.76,242.95 466.53,241.86 466.29,240.76 466.04,239.67 465.79,238.58 465.53,237.49 465.27,236.40 464.99,235.31 464.72,234.23 464.43,233.15 464.15,232.07 463.85,231.00 463.55,229.93 463.24,228.86 462.93,227.79 462.61,226.73 462.29,225.67 461.95,224.61 461.62,223.56 461.27,222.51 460.93,221.46 460.57,220.42 460.21,219.38 459.84,218.34 459.47,217.31 459.09,216.28 458.71,215.25 458.32,214.23 457.93,213.22 457.52,212.20 457.12,211.19 456.70,210.19 456.29,209.19 455.86,208.19 455.43,207.20 455.00,206.21 454.56,205.23 454.11,204.25 453.66,203.28 453.20,202.31 452.74,201.35 452.27,200.39 451.79,199.44 451.31,198.49 450.83,197.54 450.33,196.61 449.84,195.67 449.34,194.75 448.83,193.82 448.32,192.91 447.80,192.00 447.27,191.09 446.75,190.19 446.21,189.30 445.67,188.41 445.13,187.52 444.58,186.65 444.02,185.78 443.46,184.91 442.89,184.05 442.32,183.20 441.75,182.35 441.17,181.51 440.58,180.68 439.99,179.85 439.39,179.03 438.79,178.22 438.18,177.41 437.57,176.61 436.95,175.81 436.33,175.03 435.71,174.25 435.07,173.47 434.44,172.70 433.80,171.94 433.15,171.19 432.50,170.44 431.84,169.70 431.18,168.97 430.52,168.25 429.84,167.53 429.17,166.82 428.49,166.11 427.81,165.42 427.12,164.73 426.42,164.05 425.72,163.38 425.02,162.71 424.31,162.05 423.60,161.40 422.88,160.76 422.16,160.12 421.44,159.50 420.70,158.88 419.97,158.26 419.23,157.66 418.49,157.06 417.74,156.48 416.98,155.90 416.23,155.32 415.47,154.76 414.70,154.21 413.93,153.66 413.15,153.12 412.37,152.59 411.59,152.07 410.80,151.55 410.01,151.05 409.21,150.55 408.41,150.06 407.61,149.58 406.80,149.11 405.98,148.64 405.17,148.19 404.34,147.74 403.52,147.30 402.69,146.88 401.85,146.46 401.01,146.04 400.17,145.64 399.32,145.25 398.47,144.86 397.61,144.48 396.75,144.12 395.88,143.76 395.01,143.41 394.14,143.07 393.26,142.74 392.38,142.41 391.49,142.10 390.60,141.79 389.70,141.50 388.80,141.21 387.89,140.93 386.98,140.66 386.06,140.40 385.14,140.15 384.21,139.91 383.28,139.68 382.34,139.46 381.40,139.24 380.45,139.04 379.50,138.84 378.54,138.66 377.57,138.48 376.60,138.31 375.62,138.15 374.63,138.00 373.64,137.86 372.63,137.73 371.62,137.61 370.60,137.50 369.57,137.40 368.53,137.30 367.48,137.22 366.41,137.14 365.33,137.08 364.23,137.02 363.10,136.97 361.95,136.94 360.77,136.91 359.53,136.89 358.20,136.88 356.70,136.88 355.50,136.89 354.39,136.91 353.31,136.94 352.27,136.97 351.25,137.02 350.24,137.08 349.26,137.14 348.28,137.22 347.32,137.30 346.36,137.40 345.42,137.50 344.48,137.61 343.55,137.73 342.63,137.86 341.72,138.00 340.81,138.15 339.91,138.31 339.01,138.48 338.12,138.66 337.24,138.84 336.36,139.04 335.48,139.24 334.61,139.46 333.75,139.68 332.89,139.91 332.03,140.15 331.18,140.40 330.33,140.66 329.49,140.93 328.65,141.21 327.82,141.50 326.98,141.79 326.16,142.10 325.34,142.41 324.52,142.74 323.70,143.07 322.89,143.41 322.09,143.76 321.28,144.12 320.49,144.48 319.69,144.86 318.90,145.25 318.11,145.64 317.33,146.04 316.55,146.46 315.78,146.88 315.00,147.30 314.24,147.74 313.47,148.19 312.71,148.64 311.96,149.11 311.20,149.58 310.45,150.06 309.71,150.55 308.97,151.05 308.23,151.55 307.50,152.07 306.77,152.59 306.05,153.12 305.32,153.66 304.61,154.21 303.89,154.76 303.19,155.32 302.48,155.90 301.78,156.48 301.08,157.06 300.39,157.66 299.70,158.26 299.02,158.88 298.33,159.50 297.66,160.12 296.99,160.76 296.32,161.40 295.65,162.05 294.99,162.71 294.34,163.38 293.69,164.05 293.04,164.73 292.40,165.42 291.76,166.11 291.12,166.82 290.49,167.53 289.87,168.25 289.25,168.97 288.63,169.70 288.02,170.44 287.41,171.19 286.81,171.94 286.21,172.70 285.61,173.47 285.02,174.25 284.44,175.03 283.86,175.81 283.28,176.61 282.71,177.41 282.15,178.22 281.58,179.03 281.03,179.85 280.47,180.68 279.93,181.51 279.38,182.35 278.84,183.20 278.31,184.05 277.78,184.91 277.26,185.78 276.74,186.65 276.22,187.52 275.71,188.41 275.21,189.30 274.71,190.19 274.22,191.09 273.73,192.00 273.24,192.91 272.76,193.82 272.29,194.75 271.82,195.67 271.35,196.61 270.89,197.54 270.44,198.49 269.99,199.44 269.55,200.39 269.11,201.35 268.68,202.31 268.25,203.28 267.82,204.25 267.41,205.23 266.99,206.21 266.59,207.20 266.18,208.19 265.79,209.19 265.40,210.19 265.01,211.19 264.63,212.20 264.25,213.22 263.88,214.23 263.52,215.25 263.16,216.28 262.80,217.31 262.46,218.34 262.11,219.38 261.78,220.42 261.44,221.46 261.12,222.51 260.80,223.56 260.48,224.61 260.17,225.67 259.87,226.73 259.57,227.79 259.27,228.86 258.99,229.93 258.70,231.00 258.43,232.07 258.16,233.15 257.89,234.23 257.63,235.31 257.38,236.40 257.13,237.49 256.89,238.58 256.65,239.67 256.42,240.76 256.20,241.86 255.98,242.95 255.76,244.05 255.55,245.15 255.35,246.26 255.16,247.36 254.96,248.46 254.78,249.57 254.60,250.68 254.43,251.79 254.26,252.90 254.10,254.01 253.94,255.12 253.79,256.23 253.65,257.34 253.51,258.45 253.38,259.57 253.25,260.68 253.13,261.79 253.01,262.90 252.90,264.02 252.80,265.13 252.70,266.24 252.61,267.35 252.53,268.46 252.45,269.57 252.37,270.67 252.31,271.78 252.24,272.88 252.19,273.98 252.14,275.07 252.09,276.17 252.05,277.26 252.02,278.34 251.99,279.42 251.97,280.49 251.96,281.55 251.95,282.60 251.95,283.60"/>
<polyline fill="none" stroke="#FF0000" stroke-width="3.0" stroke-dasharray="0 6.25" stroke-linecap="round" points="433.32,283.60 433.32,283.11 433.31,282.55 433.30,281.96 433.29,281.34 433.27,280.71 433.25,280.06 433.23,279.40 433.20,278.73 433.17,278.05 433.14,277.37 433.10,276.67 433.06,275.97 433.01,275.27 432.96,274.55 432.91,273.84 432.85,273.12 432.79,272.39 432.73,271.66 432.66,270.93 432.59,270.19 432.52,269.46 432.44,268.71 432.36,267.97 432.27,267.22 432.18,266.47 432.09,265.72 432.00,264.97 431.90,264.21 431.79,263.46 431.69,262.70 431.57,261.94 431.46,261.18 431.34,260.42 431.22,259.66 431.10,258.89 430.97,258.13 430.84,257.37 430.70,256.60 430.56,255.84 430.42,255.07 430.27,254.31 430.12,253.54 429.97,252.78 429.81,252.01 429.65,251.25 429.49,250.49 429.32,249.72 429.15,248.96 428.98,248.20 428.80,247.44 428.62,246.68 428.43,245.92 428.24,245.16 428.05,244.40 427.85,243.65 427.66,242.89 427.45,242.14 427.25,241.39 427.04,240.64 426.82,239.89 426.61,239.15 426.39,238.40 426.16,237.66 425.94,236.92 425.71,236.18 425.47,235.44 425.24,234.71 425.00,233.98 424.75,233.25 424.50,232.52 424.25,231.80 424.00,231.07 423.74,230.35 423.48,229.64 423.22,228.92 422.95,228.21 422.68,227.50 422.40,226.80 422.13,226.10 421.85,225.40 421.56,224.70 421.27,224.01 420.98,223.32 420.69,222.63 420.39,221.95 420.09,221.27 419.78,220.60 419.48,219.92 419.17,219.26 418.85,218.59 418.53,217.93 418.21,217.27 417.89,216.62 417.56,215.97 417.23,215.33 416.90,214.69 416.56,214.05 416.22,213.42 415.88,212.79 415.53,212.17 415.18,211.55 414.83,210.93 414.47,210.32 414.11,209.72 413.75,209.12 413.38,208.52 413.01,207.93 412.64,207.34 412.26,206.76 411.89,206.18 411.50,205.61 411.12,205.04 410.73,204.48 410.34,203.92 409.94,203.37 409.55,202.82 409.15,202.28 408.74,201.74 408.34,201.21 407.93,200.68 407.51,200.16 407.10,199.65 406.68,199.14 406.25,198.63 405.83,198.13 405.40,197.64 404.97,197.15 404.53,196.67 404.09,196.19 403.65,195.72 403.21,195.26 402.76,194.80 402.31,194.34 401.85,193.90 401.39,193.46 400.93,193.02 400.47,192.59 400.00,192.17 399.53,191.75 399.06,191.34 398.58,190.94 398.10,190.54 397.62,190.14 397.14,189.76 396.65,189.38 396.15,189.01 395.66,188.64 395.16,188.28 394.66,187.92 394.15,187.58 393.64,187.23 393.13,186.90 392.61,186.57 392.09,186.25 391.57,185.93 391.04,185.63 390.51,185.32 389.98,185.03 389.44,184.74 388.90,184.46 388.36,184.18 387.81,183.92 387.26,183.65 386.70,183.40 386.14,183.15 385.58,182.91 385.01,182.68 384.43,182.45 383.86,182.23 383.28,182.02 382.69,181.81 382.10,181.61 381.51,181.42 380.90,181.23 380.30,181.05 379.69,180.88 379.07,180.72 378.45,180.56 377.82,180.41 377.19,180.27 376.55,180.13 375.90,180.00 375.25,179.88 374.59,179.76 373.92,179.66 373.24,179.56 372.55,179.46 371.85,179.38 371.14,179.30 370.41,179.23 369.68,179.16 368.92,179.10 368.15,179.05 367.36,179.01 366.54,178.97 365.69,178.95 364.79,178.92 363.82,178.91 362.72,178.90 361.35,178.90 360.36,178.91 359.46,178.92 358.61,178.95 357.78,178.97 356.99,179.01 356.21,179.05 355.44,179.10 354.69,179.16 353.95,179.23 353.22,179.30 352.50,179.38 351.79,179.46 351.09,179.56 350.40,179.66 349.71,179.76 349.03,179.88 348.35,180.00 347.68,180.13 347.01,180.27 346.35,180.41 345.70,180.56 345.05,180.72 344.40,180.88 343.76,181.05 343.13,181.23 342.49,181.42 341.87,181.61 341.24,181.81 340.62,182.02 340.00,182.23 339.39,182.45 338.78,182.68 338.18,182.91 337.57,183.15 336.98,183.40 336.38,183.65 335.79,183.92 335.20,184.18 334.62,184.46 334.03,184.74 333.46,185.03 332.88,185.32 332.31,185.63 331.74,185.93 331.18,186.25 330.61,186.57 330.06,186.90 329.50,187.23 328.95,187.58 328.40,187.92 327.85,188.28 327.31,188.64 326.77,189.01 326.23,189.38 325.70,189.76 325.17,190.14 324.64,190.54 324.12,190.94 323.59,191.34 323.08,191.75 322.56,192.17 322.05,192.59 321.54,193.02 321.04,193.46 320.53,193.90 320.03,194.34 319.54,194.80 319.04,195.26 318.55,195.72 318.07,196.19 317.58,196.67 317.10,197.15 316.63,197.64 316.15,198.13 315.68,198.63 315.21,199.14 314.75,199.65 314.29,200.16 313.83,200.68 313.38,201.21 312.93,201.74 312.48,202.28 312.03,202.82 311.59,203.37 311.15,203.92 310.72,204.48 310.29,205.04 309.86,205.61 309.43,206.18 309.01,206.76 308.59,207.34 308.18,207.93 307.77,208.52 307.36,209.12 306.95,209.72 306.55,210.32 306.15,210.93 305.76,211.55 305.37,212.17 304.98,212.79 304.60,213.42 304.21,214.05 303.84,214.69 303.46,215.33 303.09,215.97 302.73,216.62 302.36,217.27 302.00,217.93 301.65,218.59 301.30,219.26 300.95,219.92 300.60,220.60 300.26,221.27 299.92,221.95 299.59,222.63 299.26,223.32 298.93,224.01 298.61,224.70 298.29,225.40 297.97,226.10 297.66,226.80 297.35,227.50 297.04,228.21 296.74,228.92 296.44,229.64 296.15,230.35 295.86,231.07 295.57,231.80 295.29,232.52 295.01,233.25 294.74,233.98 294.46,234.71 294.20,235.44 293.93,236.18 293.67,236.92 293.42,237.66 293.16,238.40 292.92,239.15 292.67,239.89 292.43,240.64 292.19,241.39 291.96,242.14 291.73,242.89 291.51,243.65 291.28,244.40 291.07,245.16 290.85,245.92 290.64,246.68 290.44,247.44 290.24,248.20 290.04,248.96 289.85,249.72 289.66,250.49 289.47,251.25 289.29,252.01 289.11,252.78 288.94,253.54 288.77,254.31 288.60,255.07 288.44,255.84 288.28,256.60 288.13,257.37 287.98,258.13 287.83,258.89 287.69,259.66 287.55,260.42 287.42,261.18 287.29,261.94 287.17,262.70 287.04,263.46 286.93,264.21 286.81,264.97 286.70,265.72 286.60,266.47 286.50,267.22 286.40,267.97 286.31,268.71 286.22,269.46 286.14,270.19 286.06,270.93 285.98,271.66 285.91,272.39 285.84,273.12 285.77,273.84 285.71,274.55 285.66,275.27 285.61,275.97 285.56,276.67 285.52,277.37 285.48,278.05 285.44,278.73 285.41,279.40 285.38,280.06 285.36,280.71 285.34,281.34 285.33,281.96 285.32,282.55 285.31,283.11 285.31,283.60"/>
<polyline fill="none" stroke="#FF0000" stroke-width="3.0" stroke-dasharray="0 6.25" stroke-linecap="round" points="408.97,283.60 408.97,282.99 408.96,282.40 408.96,281.83 408.95,281.26 408.93,280.70 408.91,280.14 408.89,279.59 408.87,279.04 408.84,278.49 408.81,277.94 408.78,277.40 408.75,276.85 408.71,276.31 408.66,275.78 408.62,275.24 408.57,274.70 408.52,274.17 408.46,273.64 408.41,273.11 408.35,272.58 408.28,272.05 408.22,271.52 408.15,271.00 408.07,270.48 408.00,269.95 407.92,269.43 407.83,268.92 407.75,268.40 407.66,267.88 407.57,267.37 407.48,266.86 407.38,266.35 407.28,265.84 407.17,265.33 407.07,264.82 406.96,264.32 406.85,263.82 406.73,263.32 406.61,262.82 406.49,262.32 406.37,261.82 406.24,261.33 406.11,260.83 405.98,260.34 405.84,259.85 405.70,259.37 405.56,258.88 405.42,258.40 405.27,257.91 405.12,257.43 404.97,256.96 404.81,256.48 404.65,256.01 404.49,255.53 404.32,255.06 404.16,254.59 403.99,254.13 403.82,253.66 403.64,253.20 403.46,252.74 403.28,252.28 403.10,251.82 402.91,251.37 402.72,250.92 402.53,250.47 402.34,250.02 402.14,249.57 401.94,249.13 401.74,248.69 401.53,248.25 401.33,247.81 401.12,247.38 400.91,246.95 400.69,246.52 400.47,246.09 400.25,245.67 400.03,245.25 399.81,244.83 399.58,244.41 399.35,243.99 399.12,243.58 398.88,243.17 398.65,242.76 398.41,242.36 398.17,241.96 397.92,241.56 397.68,241.16 397.43,240.77 397.18,240.38 396.93,239.99 396.67,239.60 396.42,239.22 396.16,238.84 395.90,238.46 395.63,238.09 395.37,237.72 395.10,237.35 394.83,236.98 394.56,236.62 394.28,236.26 394.01,235.90 393.73,235.54 393.45,235.19 393.17,234.85 392.89,234.50 392.60,234.16 392.31,233.82 392.02,233.48 391.73,233.15 391.44,232.82 391.15,232.49 390.85,232.17 390.55,231.85 390.25,231.53 389.95,231.21 389.65,230.90 389.34,230.60 389.04,230.29 388.73,229.99 388.42,229.69 388.11,229.40 387.80,229.10 387.48,228.82 387.17,228.53 386.85,228.25 386.53,227.97 386.22,227.70 385.90,227.42 385.57,227.16 385.25,226.89 384.93,226.63 384.60,226.37 384.27,226.12 383.94,225.87 383.62,225.62 383.29,225.38 382.95,225.14 382.62,224.90 382.29,224.67 381.95,224.44 381.62,224.21 381.28,223.99 380.95,223.77 380.61,223.55 380.27,223.34 379.93,223.13 379.59,222.93 379.25,222.73 378.91,222.53 378.56,222.34 378.22,222.15 377.88,221.96 377.53,221.78 377.19,221.60 376.84,221.43 376.50,221.26 376.15,221.09 375.80,220.93 375.46,220.77 375.11,220.61 374.76,220.46 374.41,220.31 374.07,220.17 373.72,220.03 373.37,219.89 373.02,219.75 372.67,219.63 372.33,219.50 371.98,219.38 371.63,219.26 371.28,219.15 370.93,219.04 370.59,218.93 370.24,218.83 369.89,218.73 369.55,218.64 369.20,218.55 368.86,218.46 368.51,218.38 368.17,218.30 367.83,218.22 367.49,218.15 367.15,218.08 366.81,218.02 366.47,217.96 366.13,217.91 365.80,217.85 365.47,217.81 365.13,217.76 364.80,217.72 364.48,217.69 364.15,217.66 363.83,217.63 363.51,217.61 363.20,217.59 362.89,217.57 362.59,217.56 362.29,217.55 362.02,217.55 361.60,217.55 361.10,217.55 360.62,217.56 360.16,217.57 359.70,217.59 359.26,217.61 358.82,217.63 358.38,217.66 357.95,217.69 357.53,217.72 357.10,217.76 356.68,217.81 356.27,217.85 355.86,217.91 355.45,217.96 355.04,218.02 354.63,218.08 354.23,218.15 353.83,218.22 353.43,218.30 353.03,218.38 352.64,218.46 352.24,218.55 351.85,218.64 351.46,218.73 351.07,218.83 350.69,218.93 350.30,219.04 349.92,219.15 349.54,219.26 349.16,219.38 348.79,219.50 348.41,219.63 348.03,219.75 347.66,219.89 347.29,220.03 346.92,220.17 346.55,220.31 346.19,220.46 345.82,220.61 345.46,220.77 345.10,220.93 344.74,221.09 344.38,221.26 344.02,221.43 343.67,221.60 343.32,221.78 342.96,221.96 342.61,222.15 342.27,222.34 341.92,222.53 341.57,222.73 341.23,222.93 340.89,223.13 340.55,223.34 340.21,223.55 339.87,223.77 339.54,223.99 339.20,224.21 338.87,224.44 338.54,224.67 338.21,224.90 337.89,225.14 337.56,225.38 337.24,225.62 336.92,225.87 336.60,226.12 336.28,226.37 335.96,226.63 335.65,226.89 335.34,227.16 335.02,227.42 334.72,227.70 334.41,227.97 334.10,228.25 333.80,228.53 333.50,228.82 333.20,229.10 332.90,229.40 332.61,229.69 332.31,229.99 332.02,230.29 331.73,230.60 331.44,230.90 331.16,231.21 330.87,231.53 330.59,231.85 330.31,232.17 330.03,232.49 329.76,232.82 329.48,233.15 329.21,233.48 328.94,233.82 328.67,234.16 328.41,234.50 328.14,234.85 327.88,235.19 327.62,235.54 327.36,235.90 327.11,236.26 326.86,236.62 326.61,236.98 326.36,237.35 326.11,237.72 325.87,238.09 325.62,238.46 325.38,238.84 325.15,239.22 324.91,239.60 324.68,239.99 324.45,240.38 324.22,240.77 323.99,241.16 323.77,241.56 323.54,241.96 323.33,242.36 323.11,242.76 322.89,243.17 322.68,243.58 322.47,243.99 322.26,244.41 322.06,244.83 321.85,245.25 321.65,245.67 321.45,246.09 321.26,246.52 321.06,246.95 320.87,247.38 320.68,247.81 320.50,248.25 320.31,248.69 320.13,249.13 319.95,249.57 319.78,250.02 319.60,250.47 319.43,250.92 319.26,251.37 319.10,251.82 318.93,252.28 318.77,252.74 318.61,253.20 318.45,253.66 318.30,254.13 318.15,254.59 318.00,255.06 317.85,255.53 317.71,256.01 317.57,256.48 317.43,256.96 317.29,257.43 317.16,257.91 317.03,258.40 316.90,258.88 316.77,259.37 316.65,259.85 316.53,260.34 316.41,260.83 316.30,261.33 316.19,261.82 316.08,262.32 315.97,262.82 315.86,263.32 315.76,263.82 315.66,264.32 315.57,264.82 315.47,265.33 315.38,265.84 315.29,266.35 315.21,266.86 315.12,267.37 315.04,267.88 314.96,268.40 314.89,268.92 314.82,269.43 314.75,269.95 314.68,270.48 314.61,271.00 314.55,271.52 314.49,272.05 314.44,272.58 314.38,273.11 314.33,273.64 314.29,274.17 314.24,274.70 314.20,275.24 314.16,275.78 314.12,276.31 314.09,276.85 314.06,277.40 314.03,277.94 314.00,278.49 313.98,279.04 313.96,279.59 313.94,280.14 313.92,280.70 313.91,281.26 313.90,281.83 313.89,282.40 313.89,282.99 313.89,283.60"/>
</g>
<!-- plot frame -->
<rect x="46.8" y="9.9" width="630.8" height="273.7" fill="none" stroke="#1a1a1a" stroke-width="1.5"/>
<!-- legend -->
<line x1="57.5" y1="19.1" x2="97.8" y2="19.1" stroke="#00B050" stroke-width="3" stroke-linecap="round"/>
<line x1="58" y1="52.2" x2="97.5" y2="52.2" stroke="#000000" stroke-width="2.6" stroke-linecap="round"/>
<line x1="57.6" y1="85.6" x2="96" y2="85.6" stroke="#FF0000" stroke-width="3" stroke-dasharray="0 6.25" stroke-linecap="round"/>
<text x="101.5" y="23.9">Paris</text>
<text x="101.5" y="41.4">Beachmarks</text>
<text x="101.5" y="57.2">Frost Pook</text>
<text x="101.5" y="74.9">Beachmarks</text>
<text x="101.5" y="91.2">Experiment</text>
<text x="101.5" y="108.2">Beachmarks</text>
<!-- blue dashed -->
<line x1="84.4" y1="319.5" x2="86.9" y2="100.1" stroke="#2F5597" stroke-width="2.2" stroke-dasharray="9.1 7.2"/>
<line x1="362.1" y1="316.5" x2="359.2" y2="0" stroke="#2F5597" stroke-width="2.2" stroke-dasharray="9.1 7.2"/>
<line x1="639.0" y1="322.2" x2="637.5" y2="104.6" stroke="#2F5597" stroke-width="2.2" stroke-dasharray="9.1 7.2"/>
<!-- arrows -->
<line x1="95.3" y1="314.3" x2="354.9" y2="315.5" stroke="#FFC000" stroke-width="2"/><polygon fill="#FFC000" points="87.0,314.3 96.3,309.6 96.3,319.0"/><polygon fill="#FFC000" points="363.2,315.5 353.9,310.8 353.9,320.2"/>
<line x1="373.5" y1="315.5" x2="630.7" y2="315.5" stroke="#FFC000" stroke-width="2"/><polygon fill="#FFC000" points="365.2,315.5 374.5,310.8 374.5,320.2"/><polygon fill="#FFC000" points="639.0,315.5 629.7,310.8 629.7,320.2"/>
<text x="188.3" y="332.5">Left-sided <tspan font-style="italic">c</tspan></text>
<text x="463.2" y="331.6">Right-sided <tspan font-style="italic">c</tspan></text>
<text x="299.2" y="350.3">Crack Length, <tspan font-style="italic">c</tspan> (mm)</text>
<text transform="translate(10.7,246.3) rotate(-90)">Crack Depth, <tspan font-style="italic">a</tspan> (mm)</text>
</svg>
</body></html>
